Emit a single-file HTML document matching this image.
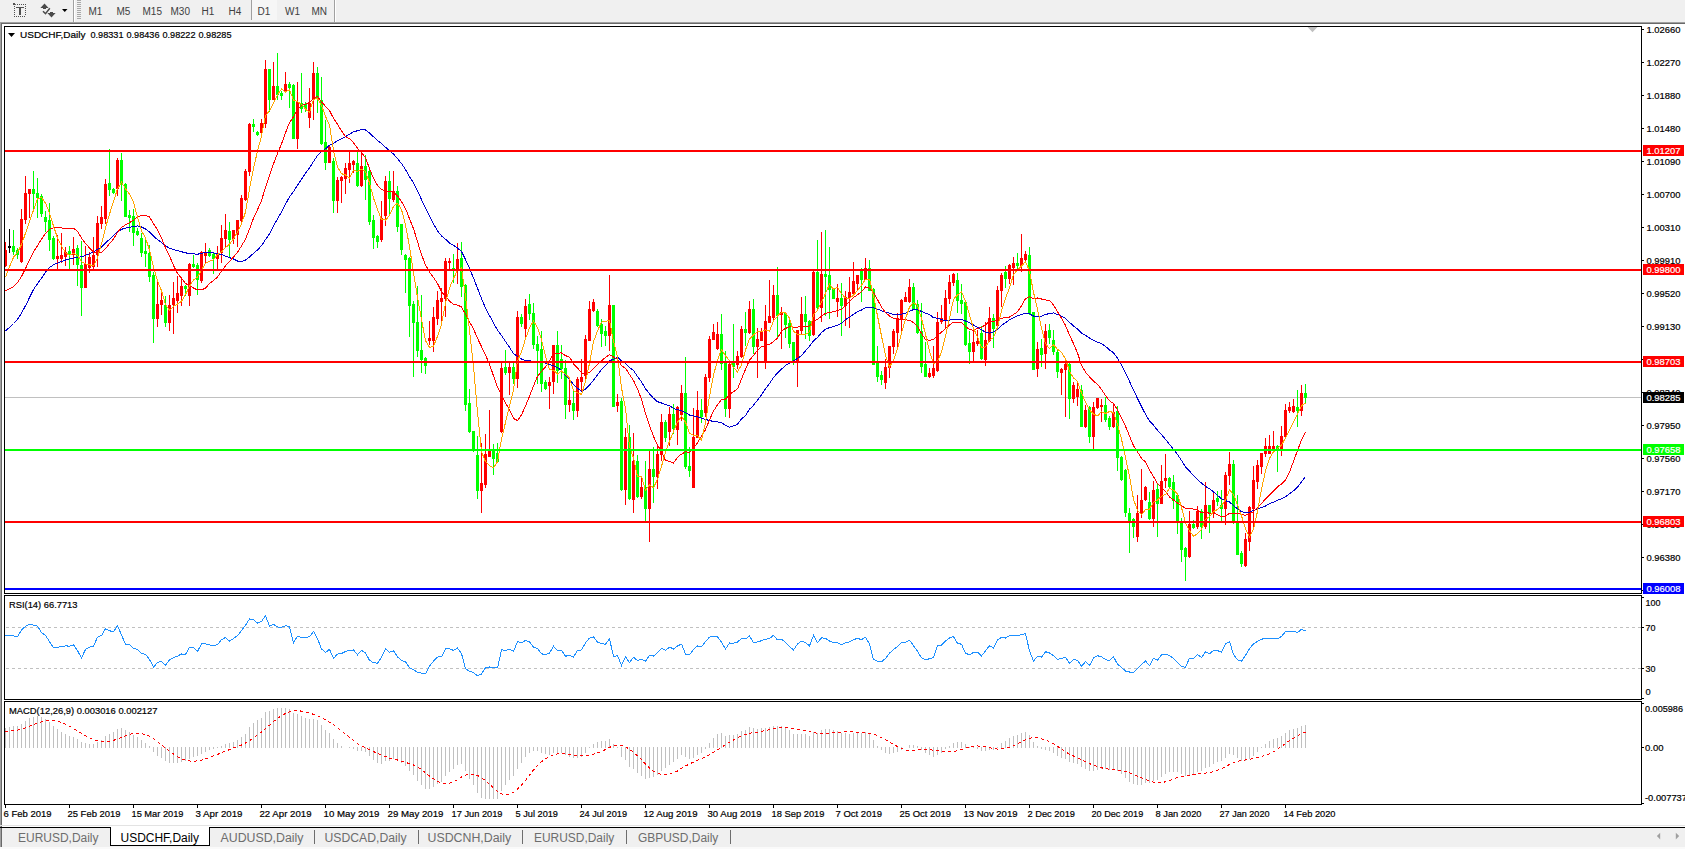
<!DOCTYPE html><html><head><meta charset="utf-8"><style>html,body{margin:0;padding:0;width:1685px;height:849px;overflow:hidden;background:#fff;position:relative}text{font-family:"Liberation Sans",sans-serif}</style></head><body><svg width="1685" height="849" viewBox="0 0 1685 849" shape-rendering="crispEdges" style="position:absolute;left:0;top:0">
<rect x="0" y="0" width="1685" height="22" fill="#f0f0f0"/>
<rect x="0" y="22" width="1685" height="1" fill="#a0a0a0"/>
<rect x="0" y="23" width="1685" height="1" fill="#696969"/>
<rect x="17" y="4" width="1" height="1" fill="#505050"/>
<rect x="19" y="4" width="1" height="1" fill="#505050"/>
<rect x="21" y="4" width="1" height="1" fill="#505050"/>
<rect x="23" y="4" width="1" height="1" fill="#505050"/>
<rect x="25" y="4" width="1" height="1" fill="#505050"/>
<rect x="14" y="16" width="1" height="1" fill="#505050"/>
<rect x="16" y="16" width="1" height="1" fill="#505050"/>
<rect x="18" y="16" width="1" height="1" fill="#505050"/>
<rect x="20" y="16" width="1" height="1" fill="#505050"/>
<rect x="22" y="16" width="1" height="1" fill="#505050"/>
<rect x="24" y="16" width="1" height="1" fill="#505050"/>
<rect x="14" y="6" width="1" height="1" fill="#505050"/>
<rect x="25" y="6" width="1" height="1" fill="#505050"/>
<rect x="14" y="8" width="1" height="1" fill="#505050"/>
<rect x="25" y="8" width="1" height="1" fill="#505050"/>
<rect x="14" y="10" width="1" height="1" fill="#505050"/>
<rect x="25" y="10" width="1" height="1" fill="#505050"/>
<rect x="14" y="12" width="1" height="1" fill="#505050"/>
<rect x="25" y="12" width="1" height="1" fill="#505050"/>
<rect x="14" y="14" width="1" height="1" fill="#505050"/>
<rect x="25" y="14" width="1" height="1" fill="#505050"/>
<rect x="13" y="3" width="2" height="2" fill="#505050"/><rect x="15" y="4" width="1" height="1" fill="#707070"/>
<rect x="16" y="7" width="8" height="1" fill="#505050"/><rect x="19" y="7" width="2" height="8" fill="#505050"/>
<g shape-rendering="geometricPrecision" fill="#4a4a4a"><path d="M44.5 3.6 L48.6 7.9 L46 7.9 L46 9 L43 9 L43 7.9 L40.4 7.9 Z"/><path d="M50 12 L53 12 L53 13.1 L55.6 13.1 L51.5 17.4 L47.4 13.1 L50 13.1 Z"/><path d="M43 11.2 L45.5 13.7 L49.8 8.3" fill="none" stroke="#4a4a4a" stroke-width="1.5"/></g>
<path d="M62 9 L67.5 9 L64.75 12 Z" fill="#000" shape-rendering="geometricPrecision"/>
<rect x="73" y="0" width="1" height="22" fill="#a0a0a0"/><rect x="74" y="0" width="1" height="22" fill="#ffffff"/>
<rect x="77" y="0" width="4" height="1" fill="#a8a8a8"/>
<rect x="77" y="2" width="4" height="1" fill="#a8a8a8"/>
<rect x="77" y="4" width="4" height="1" fill="#a8a8a8"/>
<rect x="77" y="6" width="4" height="1" fill="#a8a8a8"/>
<rect x="77" y="8" width="4" height="1" fill="#a8a8a8"/>
<rect x="77" y="10" width="4" height="1" fill="#a8a8a8"/>
<rect x="77" y="12" width="4" height="1" fill="#a8a8a8"/>
<rect x="77" y="14" width="4" height="1" fill="#a8a8a8"/>
<rect x="77" y="16" width="4" height="1" fill="#a8a8a8"/>
<rect x="77" y="18" width="4" height="1" fill="#a8a8a8"/>
<rect x="251" y="0" width="1" height="20" fill="#a0a0a0"/><rect x="252" y="0" width="25" height="20" fill="#f6f6f6"/>
<rect x="334" y="0" width="1" height="22" fill="#a0a0a0"/><rect x="335" y="0" width="1" height="22" fill="#ffffff"/>
<text x="88.5" y="14.5" font-family="Liberation Sans, sans-serif" font-size="10" fill="#404040" shape-rendering="geometricPrecision">M1</text>
<text x="116.5" y="14.5" font-family="Liberation Sans, sans-serif" font-size="10" fill="#404040" shape-rendering="geometricPrecision">M5</text>
<text x="142.5" y="14.5" font-family="Liberation Sans, sans-serif" font-size="10" fill="#404040" shape-rendering="geometricPrecision">M15</text>
<text x="170.5" y="14.5" font-family="Liberation Sans, sans-serif" font-size="10" fill="#404040" shape-rendering="geometricPrecision">M30</text>
<text x="201.5" y="14.5" font-family="Liberation Sans, sans-serif" font-size="10" fill="#404040" shape-rendering="geometricPrecision">H1</text>
<text x="228.5" y="14.5" font-family="Liberation Sans, sans-serif" font-size="10" fill="#404040" shape-rendering="geometricPrecision">H4</text>
<text x="257.5" y="14.5" font-family="Liberation Sans, sans-serif" font-size="10" fill="#404040" shape-rendering="geometricPrecision">D1</text>
<text x="285" y="14.5" font-family="Liberation Sans, sans-serif" font-size="10" fill="#404040" shape-rendering="geometricPrecision">W1</text>
<text x="311.5" y="14.5" font-family="Liberation Sans, sans-serif" font-size="10" fill="#404040" shape-rendering="geometricPrecision">MN</text>
<rect x="0" y="24" width="1685" height="804" fill="#ffffff"/>
<rect x="0" y="22" width="1" height="805" fill="#a0a0a0"/><rect x="1" y="23" width="1" height="804" fill="#696969"/>
<rect x="4" y="26" width="1638" height="1" fill="#000"/>
<rect x="4" y="593" width="1638" height="1" fill="#000"/>
<rect x="4" y="26" width="1" height="568" fill="#000"/>
<rect x="1641" y="26" width="1" height="568" fill="#000"/>
<rect x="4" y="595" width="1638" height="1" fill="#000"/>
<rect x="4" y="699" width="1638" height="1" fill="#000"/>
<rect x="4" y="595" width="1" height="105" fill="#000"/>
<rect x="1641" y="595" width="1" height="105" fill="#000"/>
<rect x="4" y="701" width="1638" height="1" fill="#000"/>
<rect x="4" y="804" width="1638" height="1" fill="#000"/>
<rect x="4" y="701" width="1" height="104" fill="#000"/>
<rect x="1641" y="701" width="1" height="104" fill="#000"/>
<defs><clipPath id="cm"><rect x="5" y="27" width="1636" height="566"/></clipPath><clipPath id="cr"><rect x="5" y="596" width="1636" height="103"/></clipPath><clipPath id="cd"><rect x="5" y="702" width="1636" height="102"/></clipPath></defs>
<g clip-path="url(#cm)">
<rect x="5" y="397" width="1636" height="1" fill="#c0c0c0"/>
<rect x="5" y="242" width="1" height="25" fill="#ff0000"/>
<rect x="4" y="250" width="3" height="16" fill="#ff0000"/>
<rect x="9" y="229" width="1" height="24" fill="#000000"/>
<rect x="8" y="246" width="3" height="2" fill="#000000"/>
<rect x="13" y="230" width="1" height="25" fill="#00ff00"/>
<rect x="12" y="246" width="3" height="6" fill="#00ff00"/>
<rect x="17" y="248" width="1" height="11" fill="#00ff00"/>
<rect x="16" y="250" width="3" height="5" fill="#00ff00"/>
<rect x="21" y="209" width="1" height="54" fill="#ff0000"/>
<rect x="20" y="219" width="3" height="43" fill="#ff0000"/>
<rect x="25" y="176" width="1" height="48" fill="#ff0000"/>
<rect x="24" y="193" width="3" height="27" fill="#ff0000"/>
<rect x="29" y="189" width="1" height="29" fill="#ff0000"/>
<rect x="28" y="189" width="3" height="5" fill="#ff0000"/>
<rect x="33" y="171" width="1" height="38" fill="#00ff00"/>
<rect x="32" y="189" width="3" height="5" fill="#00ff00"/>
<rect x="37" y="178" width="1" height="40" fill="#00ff00"/>
<rect x="36" y="193" width="3" height="5" fill="#00ff00"/>
<rect x="41" y="194" width="1" height="23" fill="#00ff00"/>
<rect x="40" y="196" width="3" height="18" fill="#00ff00"/>
<rect x="45" y="211" width="1" height="21" fill="#00ff00"/>
<rect x="44" y="217" width="3" height="5" fill="#00ff00"/>
<rect x="49" y="203" width="1" height="48" fill="#00ff00"/>
<rect x="48" y="220" width="3" height="20" fill="#00ff00"/>
<rect x="53" y="236" width="1" height="24" fill="#00ff00"/>
<rect x="52" y="238" width="3" height="21" fill="#00ff00"/>
<rect x="57" y="235" width="1" height="34" fill="#ff0000"/>
<rect x="56" y="256" width="3" height="3" fill="#ff0000"/>
<rect x="61" y="233" width="1" height="30" fill="#ff0000"/>
<rect x="60" y="255" width="3" height="4" fill="#ff0000"/>
<rect x="65" y="247" width="1" height="19" fill="#ff0000"/>
<rect x="64" y="252" width="3" height="5" fill="#ff0000"/>
<rect x="69" y="246" width="1" height="23" fill="#00ff00"/>
<rect x="68" y="251" width="3" height="3" fill="#00ff00"/>
<rect x="73" y="237" width="1" height="28" fill="#ff0000"/>
<rect x="72" y="249" width="3" height="6" fill="#ff0000"/>
<rect x="77" y="245" width="1" height="41" fill="#00ff00"/>
<rect x="76" y="248" width="3" height="17" fill="#00ff00"/>
<rect x="81" y="241" width="1" height="75" fill="#00ff00"/>
<rect x="80" y="265" width="3" height="23" fill="#00ff00"/>
<rect x="85" y="246" width="1" height="42" fill="#ff0000"/>
<rect x="84" y="264" width="3" height="24" fill="#ff0000"/>
<rect x="89" y="252" width="1" height="21" fill="#ff0000"/>
<rect x="88" y="257" width="3" height="11" fill="#ff0000"/>
<rect x="93" y="237" width="1" height="32" fill="#ff0000"/>
<rect x="92" y="255" width="3" height="12" fill="#ff0000"/>
<rect x="97" y="216" width="1" height="51" fill="#ff0000"/>
<rect x="96" y="223" width="3" height="32" fill="#ff0000"/>
<rect x="101" y="206" width="1" height="23" fill="#ff0000"/>
<rect x="100" y="217" width="3" height="7" fill="#ff0000"/>
<rect x="105" y="179" width="1" height="45" fill="#ff0000"/>
<rect x="104" y="184" width="3" height="35" fill="#ff0000"/>
<rect x="109" y="149" width="1" height="47" fill="#00ff00"/>
<rect x="108" y="183" width="3" height="7" fill="#00ff00"/>
<rect x="113" y="188" width="1" height="6" fill="#00ff00"/>
<rect x="112" y="189" width="3" height="4" fill="#00ff00"/>
<rect x="117" y="158" width="1" height="38" fill="#ff0000"/>
<rect x="116" y="160" width="3" height="29" fill="#ff0000"/>
<rect x="121" y="153" width="1" height="48" fill="#00ff00"/>
<rect x="120" y="160" width="3" height="25" fill="#00ff00"/>
<rect x="125" y="183" width="1" height="34" fill="#00ff00"/>
<rect x="124" y="184" width="3" height="33" fill="#00ff00"/>
<rect x="129" y="210" width="1" height="22" fill="#00ff00"/>
<rect x="128" y="215" width="3" height="3" fill="#00ff00"/>
<rect x="133" y="209" width="1" height="37" fill="#00ff00"/>
<rect x="132" y="216" width="3" height="17" fill="#00ff00"/>
<rect x="137" y="228" width="1" height="8" fill="#00ff00"/>
<rect x="136" y="231" width="3" height="4" fill="#00ff00"/>
<rect x="141" y="233" width="1" height="24" fill="#00ff00"/>
<rect x="140" y="238" width="3" height="15" fill="#00ff00"/>
<rect x="145" y="238" width="1" height="29" fill="#00ff00"/>
<rect x="144" y="251" width="3" height="3" fill="#00ff00"/>
<rect x="149" y="245" width="1" height="37" fill="#00ff00"/>
<rect x="148" y="253" width="3" height="24" fill="#00ff00"/>
<rect x="153" y="272" width="1" height="71" fill="#00ff00"/>
<rect x="152" y="275" width="3" height="44" fill="#00ff00"/>
<rect x="157" y="281" width="1" height="46" fill="#ff0000"/>
<rect x="156" y="304" width="3" height="15" fill="#ff0000"/>
<rect x="161" y="292" width="1" height="23" fill="#ff0000"/>
<rect x="160" y="300" width="3" height="5" fill="#ff0000"/>
<rect x="165" y="296" width="1" height="31" fill="#00ff00"/>
<rect x="164" y="305" width="3" height="18" fill="#00ff00"/>
<rect x="169" y="295" width="1" height="36" fill="#ff0000"/>
<rect x="168" y="305" width="3" height="18" fill="#ff0000"/>
<rect x="173" y="282" width="1" height="52" fill="#ff0000"/>
<rect x="172" y="298" width="3" height="7" fill="#ff0000"/>
<rect x="177" y="276" width="1" height="37" fill="#ff0000"/>
<rect x="176" y="293" width="3" height="8" fill="#ff0000"/>
<rect x="181" y="277" width="1" height="29" fill="#ff0000"/>
<rect x="180" y="286" width="3" height="10" fill="#ff0000"/>
<rect x="185" y="285" width="1" height="11" fill="#00ff00"/>
<rect x="184" y="286" width="3" height="3" fill="#00ff00"/>
<rect x="189" y="263" width="1" height="43" fill="#ff0000"/>
<rect x="188" y="264" width="3" height="32" fill="#ff0000"/>
<rect x="193" y="255" width="1" height="13" fill="#00ff00"/>
<rect x="192" y="264" width="3" height="3" fill="#00ff00"/>
<rect x="197" y="263" width="1" height="32" fill="#00ff00"/>
<rect x="196" y="265" width="3" height="15" fill="#00ff00"/>
<rect x="201" y="251" width="1" height="32" fill="#ff0000"/>
<rect x="200" y="252" width="3" height="29" fill="#ff0000"/>
<rect x="205" y="243" width="1" height="20" fill="#ff0000"/>
<rect x="204" y="252" width="3" height="4" fill="#ff0000"/>
<rect x="209" y="248" width="1" height="9" fill="#00ff00"/>
<rect x="208" y="250" width="3" height="6" fill="#00ff00"/>
<rect x="213" y="253" width="1" height="21" fill="#00ff00"/>
<rect x="212" y="254" width="3" height="5" fill="#00ff00"/>
<rect x="217" y="246" width="1" height="24" fill="#ff0000"/>
<rect x="216" y="254" width="3" height="5" fill="#ff0000"/>
<rect x="221" y="225" width="1" height="38" fill="#ff0000"/>
<rect x="220" y="238" width="3" height="15" fill="#ff0000"/>
<rect x="225" y="214" width="1" height="33" fill="#ff0000"/>
<rect x="224" y="230" width="3" height="9" fill="#ff0000"/>
<rect x="229" y="222" width="1" height="36" fill="#00ff00"/>
<rect x="228" y="231" width="3" height="9" fill="#00ff00"/>
<rect x="233" y="230" width="1" height="14" fill="#ff0000"/>
<rect x="232" y="230" width="3" height="9" fill="#ff0000"/>
<rect x="237" y="220" width="1" height="27" fill="#ff0000"/>
<rect x="236" y="220" width="3" height="15" fill="#ff0000"/>
<rect x="241" y="195" width="1" height="28" fill="#ff0000"/>
<rect x="240" y="198" width="3" height="23" fill="#ff0000"/>
<rect x="245" y="169" width="1" height="32" fill="#ff0000"/>
<rect x="244" y="171" width="3" height="29" fill="#ff0000"/>
<rect x="249" y="123" width="1" height="53" fill="#ff0000"/>
<rect x="248" y="124" width="3" height="48" fill="#ff0000"/>
<rect x="253" y="119" width="1" height="13" fill="#00ff00"/>
<rect x="252" y="124" width="3" height="3" fill="#00ff00"/>
<rect x="257" y="131" width="1" height="5" fill="#00ff00"/>
<rect x="256" y="132" width="3" height="3" fill="#00ff00"/>
<rect x="261" y="119" width="1" height="15" fill="#ff0000"/>
<rect x="260" y="123" width="3" height="10" fill="#ff0000"/>
<rect x="265" y="60" width="1" height="68" fill="#ff0000"/>
<rect x="264" y="69" width="3" height="55" fill="#ff0000"/>
<rect x="269" y="69" width="1" height="43" fill="#00ff00"/>
<rect x="268" y="69" width="3" height="31" fill="#00ff00"/>
<rect x="273" y="62" width="1" height="38" fill="#ff0000"/>
<rect x="272" y="86" width="3" height="14" fill="#ff0000"/>
<rect x="277" y="53" width="1" height="47" fill="#00ff00"/>
<rect x="276" y="86" width="3" height="9" fill="#00ff00"/>
<rect x="281" y="91" width="1" height="9" fill="#00ff00"/>
<rect x="280" y="93" width="3" height="3" fill="#00ff00"/>
<rect x="285" y="72" width="1" height="20" fill="#ff0000"/>
<rect x="284" y="84" width="3" height="7" fill="#ff0000"/>
<rect x="289" y="82" width="1" height="26" fill="#00ff00"/>
<rect x="288" y="84" width="3" height="4" fill="#00ff00"/>
<rect x="293" y="84" width="1" height="55" fill="#00ff00"/>
<rect x="292" y="85" width="3" height="54" fill="#00ff00"/>
<rect x="297" y="82" width="1" height="67" fill="#ff0000"/>
<rect x="296" y="102" width="3" height="37" fill="#ff0000"/>
<rect x="301" y="73" width="1" height="40" fill="#00ff00"/>
<rect x="300" y="103" width="3" height="6" fill="#00ff00"/>
<rect x="305" y="102" width="1" height="10" fill="#00ff00"/>
<rect x="304" y="104" width="3" height="5" fill="#00ff00"/>
<rect x="309" y="88" width="1" height="40" fill="#ff0000"/>
<rect x="308" y="103" width="3" height="15" fill="#ff0000"/>
<rect x="313" y="62" width="1" height="58" fill="#ff0000"/>
<rect x="312" y="73" width="3" height="26" fill="#ff0000"/>
<rect x="317" y="67" width="1" height="46" fill="#00ff00"/>
<rect x="316" y="73" width="3" height="26" fill="#00ff00"/>
<rect x="321" y="77" width="1" height="68" fill="#00ff00"/>
<rect x="320" y="100" width="3" height="44" fill="#00ff00"/>
<rect x="325" y="120" width="1" height="50" fill="#00ff00"/>
<rect x="324" y="142" width="3" height="21" fill="#00ff00"/>
<rect x="329" y="145" width="1" height="18" fill="#ff0000"/>
<rect x="328" y="147" width="3" height="16" fill="#ff0000"/>
<rect x="333" y="158" width="1" height="55" fill="#00ff00"/>
<rect x="332" y="161" width="3" height="40" fill="#00ff00"/>
<rect x="337" y="177" width="1" height="36" fill="#ff0000"/>
<rect x="336" y="180" width="3" height="21" fill="#ff0000"/>
<rect x="341" y="176" width="1" height="27" fill="#ff0000"/>
<rect x="340" y="177" width="3" height="4" fill="#ff0000"/>
<rect x="345" y="163" width="1" height="31" fill="#ff0000"/>
<rect x="344" y="168" width="3" height="11" fill="#ff0000"/>
<rect x="349" y="151" width="1" height="32" fill="#ff0000"/>
<rect x="348" y="163" width="3" height="7" fill="#ff0000"/>
<rect x="353" y="160" width="1" height="13" fill="#ff0000"/>
<rect x="352" y="161" width="3" height="4" fill="#ff0000"/>
<rect x="357" y="152" width="1" height="35" fill="#00ff00"/>
<rect x="356" y="163" width="3" height="23" fill="#00ff00"/>
<rect x="361" y="152" width="1" height="35" fill="#ff0000"/>
<rect x="360" y="166" width="3" height="20" fill="#ff0000"/>
<rect x="365" y="155" width="1" height="45" fill="#00ff00"/>
<rect x="364" y="166" width="3" height="14" fill="#00ff00"/>
<rect x="369" y="167" width="1" height="58" fill="#00ff00"/>
<rect x="368" y="171" width="3" height="51" fill="#00ff00"/>
<rect x="373" y="215" width="1" height="34" fill="#00ff00"/>
<rect x="372" y="220" width="3" height="18" fill="#00ff00"/>
<rect x="377" y="235" width="1" height="13" fill="#00ff00"/>
<rect x="376" y="236" width="3" height="6" fill="#00ff00"/>
<rect x="381" y="201" width="1" height="41" fill="#ff0000"/>
<rect x="380" y="218" width="3" height="22" fill="#ff0000"/>
<rect x="385" y="176" width="1" height="50" fill="#ff0000"/>
<rect x="384" y="181" width="3" height="35" fill="#ff0000"/>
<rect x="389" y="171" width="1" height="43" fill="#00ff00"/>
<rect x="388" y="181" width="3" height="18" fill="#00ff00"/>
<rect x="393" y="171" width="1" height="31" fill="#ff0000"/>
<rect x="392" y="191" width="3" height="9" fill="#ff0000"/>
<rect x="397" y="186" width="1" height="46" fill="#00ff00"/>
<rect x="396" y="191" width="3" height="36" fill="#00ff00"/>
<rect x="401" y="224" width="1" height="31" fill="#00ff00"/>
<rect x="400" y="224" width="3" height="26" fill="#00ff00"/>
<rect x="405" y="254" width="1" height="39" fill="#00ff00"/>
<rect x="404" y="255" width="3" height="5" fill="#00ff00"/>
<rect x="409" y="257" width="1" height="80" fill="#00ff00"/>
<rect x="408" y="258" width="3" height="48" fill="#00ff00"/>
<rect x="413" y="301" width="1" height="76" fill="#00ff00"/>
<rect x="412" y="304" width="3" height="19" fill="#00ff00"/>
<rect x="417" y="286" width="1" height="71" fill="#00ff00"/>
<rect x="416" y="322" width="3" height="29" fill="#00ff00"/>
<rect x="421" y="295" width="1" height="78" fill="#00ff00"/>
<rect x="420" y="350" width="3" height="10" fill="#00ff00"/>
<rect x="425" y="357" width="1" height="17" fill="#00ff00"/>
<rect x="424" y="358" width="3" height="8" fill="#00ff00"/>
<rect x="429" y="321" width="1" height="24" fill="#ff0000"/>
<rect x="428" y="338" width="3" height="3" fill="#ff0000"/>
<rect x="433" y="307" width="1" height="45" fill="#ff0000"/>
<rect x="432" y="317" width="3" height="24" fill="#ff0000"/>
<rect x="437" y="291" width="1" height="34" fill="#ff0000"/>
<rect x="436" y="300" width="3" height="19" fill="#ff0000"/>
<rect x="441" y="288" width="1" height="35" fill="#ff0000"/>
<rect x="440" y="298" width="3" height="4" fill="#ff0000"/>
<rect x="445" y="258" width="1" height="59" fill="#ff0000"/>
<rect x="444" y="261" width="3" height="38" fill="#ff0000"/>
<rect x="449" y="258" width="1" height="11" fill="#ff0000"/>
<rect x="448" y="261" width="3" height="2" fill="#ff0000"/>
<rect x="453" y="254" width="1" height="29" fill="#00ff00"/>
<rect x="452" y="268" width="3" height="3" fill="#00ff00"/>
<rect x="457" y="243" width="1" height="41" fill="#ff0000"/>
<rect x="456" y="259" width="3" height="11" fill="#ff0000"/>
<rect x="461" y="242" width="1" height="55" fill="#00ff00"/>
<rect x="460" y="258" width="3" height="29" fill="#00ff00"/>
<rect x="465" y="284" width="1" height="127" fill="#00ff00"/>
<rect x="464" y="285" width="3" height="120" fill="#00ff00"/>
<rect x="469" y="389" width="1" height="44" fill="#00ff00"/>
<rect x="468" y="403" width="3" height="29" fill="#00ff00"/>
<rect x="473" y="431" width="1" height="21" fill="#00ff00"/>
<rect x="472" y="431" width="3" height="18" fill="#00ff00"/>
<rect x="477" y="436" width="1" height="63" fill="#00ff00"/>
<rect x="476" y="455" width="3" height="36" fill="#00ff00"/>
<rect x="481" y="443" width="1" height="70" fill="#ff0000"/>
<rect x="480" y="483" width="3" height="8" fill="#ff0000"/>
<rect x="485" y="434" width="1" height="54" fill="#ff0000"/>
<rect x="484" y="454" width="3" height="31" fill="#ff0000"/>
<rect x="489" y="410" width="1" height="47" fill="#ff0000"/>
<rect x="488" y="451" width="3" height="6" fill="#ff0000"/>
<rect x="493" y="444" width="1" height="31" fill="#00ff00"/>
<rect x="492" y="451" width="3" height="8" fill="#00ff00"/>
<rect x="497" y="443" width="1" height="19" fill="#00ff00"/>
<rect x="496" y="453" width="3" height="9" fill="#00ff00"/>
<rect x="501" y="363" width="1" height="70" fill="#ff0000"/>
<rect x="500" y="368" width="3" height="64" fill="#ff0000"/>
<rect x="505" y="350" width="1" height="25" fill="#00ff00"/>
<rect x="504" y="367" width="3" height="6" fill="#00ff00"/>
<rect x="509" y="361" width="1" height="34" fill="#ff0000"/>
<rect x="508" y="367" width="3" height="6" fill="#ff0000"/>
<rect x="513" y="361" width="1" height="23" fill="#00ff00"/>
<rect x="512" y="367" width="3" height="12" fill="#00ff00"/>
<rect x="517" y="311" width="1" height="77" fill="#ff0000"/>
<rect x="516" y="317" width="3" height="62" fill="#ff0000"/>
<rect x="521" y="314" width="1" height="13" fill="#00ff00"/>
<rect x="520" y="317" width="3" height="7" fill="#00ff00"/>
<rect x="525" y="299" width="1" height="39" fill="#ff0000"/>
<rect x="524" y="306" width="3" height="23" fill="#ff0000"/>
<rect x="529" y="294" width="1" height="26" fill="#00ff00"/>
<rect x="528" y="304" width="3" height="10" fill="#00ff00"/>
<rect x="533" y="303" width="1" height="46" fill="#00ff00"/>
<rect x="532" y="313" width="3" height="32" fill="#00ff00"/>
<rect x="537" y="336" width="1" height="48" fill="#00ff00"/>
<rect x="536" y="344" width="3" height="7" fill="#00ff00"/>
<rect x="541" y="331" width="1" height="61" fill="#00ff00"/>
<rect x="540" y="349" width="3" height="35" fill="#00ff00"/>
<rect x="545" y="380" width="1" height="10" fill="#00ff00"/>
<rect x="544" y="382" width="3" height="7" fill="#00ff00"/>
<rect x="549" y="377" width="1" height="32" fill="#ff0000"/>
<rect x="548" y="382" width="3" height="4" fill="#ff0000"/>
<rect x="553" y="345" width="1" height="49" fill="#ff0000"/>
<rect x="552" y="345" width="3" height="37" fill="#ff0000"/>
<rect x="557" y="331" width="1" height="52" fill="#00ff00"/>
<rect x="556" y="345" width="3" height="26" fill="#00ff00"/>
<rect x="561" y="345" width="1" height="34" fill="#00ff00"/>
<rect x="560" y="359" width="3" height="10" fill="#00ff00"/>
<rect x="565" y="360" width="1" height="59" fill="#00ff00"/>
<rect x="564" y="368" width="3" height="37" fill="#00ff00"/>
<rect x="569" y="379" width="1" height="33" fill="#ff0000"/>
<rect x="568" y="400" width="3" height="5" fill="#ff0000"/>
<rect x="573" y="389" width="1" height="31" fill="#00ff00"/>
<rect x="572" y="403" width="3" height="8" fill="#00ff00"/>
<rect x="577" y="377" width="1" height="40" fill="#ff0000"/>
<rect x="576" y="379" width="3" height="32" fill="#ff0000"/>
<rect x="581" y="359" width="1" height="33" fill="#ff0000"/>
<rect x="580" y="377" width="3" height="5" fill="#ff0000"/>
<rect x="585" y="335" width="1" height="47" fill="#ff0000"/>
<rect x="584" y="339" width="3" height="37" fill="#ff0000"/>
<rect x="589" y="301" width="1" height="40" fill="#ff0000"/>
<rect x="588" y="309" width="3" height="32" fill="#ff0000"/>
<rect x="593" y="299" width="1" height="13" fill="#ff0000"/>
<rect x="592" y="302" width="3" height="9" fill="#ff0000"/>
<rect x="597" y="309" width="1" height="18" fill="#00ff00"/>
<rect x="596" y="311" width="3" height="15" fill="#00ff00"/>
<rect x="601" y="319" width="1" height="28" fill="#00ff00"/>
<rect x="600" y="324" width="3" height="10" fill="#00ff00"/>
<rect x="605" y="326" width="1" height="20" fill="#00ff00"/>
<rect x="604" y="331" width="3" height="5" fill="#00ff00"/>
<rect x="609" y="275" width="1" height="76" fill="#ff0000"/>
<rect x="608" y="305" width="3" height="31" fill="#ff0000"/>
<rect x="613" y="305" width="1" height="102" fill="#00ff00"/>
<rect x="612" y="305" width="3" height="102" fill="#00ff00"/>
<rect x="617" y="394" width="1" height="18" fill="#ff0000"/>
<rect x="616" y="402" width="3" height="4" fill="#ff0000"/>
<rect x="621" y="398" width="1" height="93" fill="#00ff00"/>
<rect x="620" y="401" width="3" height="89" fill="#00ff00"/>
<rect x="625" y="428" width="1" height="77" fill="#ff0000"/>
<rect x="624" y="437" width="3" height="53" fill="#ff0000"/>
<rect x="629" y="425" width="1" height="75" fill="#00ff00"/>
<rect x="628" y="437" width="3" height="62" fill="#00ff00"/>
<rect x="633" y="433" width="1" height="80" fill="#ff0000"/>
<rect x="632" y="461" width="3" height="39" fill="#ff0000"/>
<rect x="637" y="455" width="1" height="43" fill="#00ff00"/>
<rect x="636" y="461" width="3" height="36" fill="#00ff00"/>
<rect x="641" y="478" width="1" height="21" fill="#ff0000"/>
<rect x="640" y="487" width="3" height="10" fill="#ff0000"/>
<rect x="645" y="461" width="1" height="61" fill="#00ff00"/>
<rect x="644" y="487" width="3" height="22" fill="#00ff00"/>
<rect x="649" y="451" width="1" height="91" fill="#ff0000"/>
<rect x="648" y="469" width="3" height="40" fill="#ff0000"/>
<rect x="653" y="447" width="1" height="56" fill="#00ff00"/>
<rect x="652" y="469" width="3" height="8" fill="#00ff00"/>
<rect x="657" y="445" width="1" height="44" fill="#ff0000"/>
<rect x="656" y="454" width="3" height="23" fill="#ff0000"/>
<rect x="661" y="414" width="1" height="47" fill="#ff0000"/>
<rect x="660" y="422" width="3" height="33" fill="#ff0000"/>
<rect x="665" y="420" width="1" height="22" fill="#00ff00"/>
<rect x="664" y="422" width="3" height="16" fill="#00ff00"/>
<rect x="669" y="407" width="1" height="39" fill="#ff0000"/>
<rect x="668" y="414" width="3" height="18" fill="#ff0000"/>
<rect x="673" y="404" width="1" height="30" fill="#00ff00"/>
<rect x="672" y="414" width="3" height="15" fill="#00ff00"/>
<rect x="677" y="406" width="1" height="39" fill="#ff0000"/>
<rect x="676" y="407" width="3" height="23" fill="#ff0000"/>
<rect x="681" y="385" width="1" height="36" fill="#ff0000"/>
<rect x="680" y="393" width="3" height="22" fill="#ff0000"/>
<rect x="685" y="357" width="1" height="112" fill="#00ff00"/>
<rect x="684" y="393" width="3" height="74" fill="#00ff00"/>
<rect x="689" y="447" width="1" height="30" fill="#00ff00"/>
<rect x="688" y="466" width="3" height="5" fill="#00ff00"/>
<rect x="693" y="408" width="1" height="80" fill="#ff0000"/>
<rect x="692" y="437" width="3" height="51" fill="#ff0000"/>
<rect x="697" y="391" width="1" height="47" fill="#ff0000"/>
<rect x="696" y="410" width="3" height="28" fill="#ff0000"/>
<rect x="701" y="399" width="1" height="24" fill="#00ff00"/>
<rect x="700" y="410" width="3" height="7" fill="#00ff00"/>
<rect x="705" y="374" width="1" height="43" fill="#ff0000"/>
<rect x="704" y="377" width="3" height="36" fill="#ff0000"/>
<rect x="709" y="336" width="1" height="46" fill="#ff0000"/>
<rect x="708" y="339" width="3" height="39" fill="#ff0000"/>
<rect x="713" y="324" width="1" height="16" fill="#ff0000"/>
<rect x="712" y="332" width="3" height="8" fill="#ff0000"/>
<rect x="717" y="322" width="1" height="28" fill="#ff0000"/>
<rect x="716" y="334" width="3" height="15" fill="#ff0000"/>
<rect x="721" y="314" width="1" height="56" fill="#00ff00"/>
<rect x="720" y="334" width="3" height="30" fill="#00ff00"/>
<rect x="725" y="351" width="1" height="66" fill="#00ff00"/>
<rect x="724" y="363" width="3" height="46" fill="#00ff00"/>
<rect x="729" y="363" width="1" height="55" fill="#ff0000"/>
<rect x="728" y="364" width="3" height="45" fill="#ff0000"/>
<rect x="733" y="324" width="1" height="54" fill="#00ff00"/>
<rect x="732" y="363" width="3" height="4" fill="#00ff00"/>
<rect x="737" y="351" width="1" height="18" fill="#ff0000"/>
<rect x="736" y="356" width="3" height="9" fill="#ff0000"/>
<rect x="741" y="326" width="1" height="32" fill="#ff0000"/>
<rect x="740" y="329" width="3" height="28" fill="#ff0000"/>
<rect x="745" y="312" width="1" height="34" fill="#00ff00"/>
<rect x="744" y="329" width="3" height="4" fill="#00ff00"/>
<rect x="749" y="301" width="1" height="33" fill="#ff0000"/>
<rect x="748" y="309" width="3" height="24" fill="#ff0000"/>
<rect x="753" y="299" width="1" height="55" fill="#00ff00"/>
<rect x="752" y="309" width="3" height="38" fill="#00ff00"/>
<rect x="757" y="328" width="1" height="50" fill="#ff0000"/>
<rect x="756" y="339" width="3" height="8" fill="#ff0000"/>
<rect x="761" y="328" width="1" height="13" fill="#ff0000"/>
<rect x="760" y="331" width="3" height="10" fill="#ff0000"/>
<rect x="765" y="305" width="1" height="64" fill="#ff0000"/>
<rect x="764" y="321" width="3" height="40" fill="#ff0000"/>
<rect x="769" y="280" width="1" height="43" fill="#ff0000"/>
<rect x="768" y="316" width="3" height="7" fill="#ff0000"/>
<rect x="773" y="285" width="1" height="36" fill="#ff0000"/>
<rect x="772" y="295" width="3" height="23" fill="#ff0000"/>
<rect x="777" y="267" width="1" height="71" fill="#00ff00"/>
<rect x="776" y="295" width="3" height="21" fill="#00ff00"/>
<rect x="781" y="307" width="1" height="42" fill="#ff0000"/>
<rect x="780" y="312" width="3" height="3" fill="#ff0000"/>
<rect x="785" y="313" width="1" height="25" fill="#00ff00"/>
<rect x="784" y="313" width="3" height="12" fill="#00ff00"/>
<rect x="789" y="320" width="1" height="28" fill="#00ff00"/>
<rect x="788" y="323" width="3" height="21" fill="#00ff00"/>
<rect x="793" y="342" width="1" height="23" fill="#00ff00"/>
<rect x="792" y="342" width="3" height="19" fill="#00ff00"/>
<rect x="797" y="330" width="1" height="57" fill="#ff0000"/>
<rect x="796" y="330" width="3" height="31" fill="#ff0000"/>
<rect x="801" y="297" width="1" height="37" fill="#ff0000"/>
<rect x="800" y="314" width="3" height="17" fill="#ff0000"/>
<rect x="805" y="296" width="1" height="43" fill="#00ff00"/>
<rect x="804" y="314" width="3" height="8" fill="#00ff00"/>
<rect x="809" y="320" width="1" height="21" fill="#00ff00"/>
<rect x="808" y="321" width="3" height="15" fill="#00ff00"/>
<rect x="813" y="271" width="1" height="65" fill="#ff0000"/>
<rect x="812" y="272" width="3" height="63" fill="#ff0000"/>
<rect x="817" y="240" width="1" height="69" fill="#00ff00"/>
<rect x="816" y="272" width="3" height="36" fill="#00ff00"/>
<rect x="821" y="232" width="1" height="90" fill="#ff0000"/>
<rect x="820" y="274" width="3" height="34" fill="#ff0000"/>
<rect x="825" y="230" width="1" height="86" fill="#00ff00"/>
<rect x="824" y="274" width="3" height="3" fill="#00ff00"/>
<rect x="829" y="247" width="1" height="72" fill="#00ff00"/>
<rect x="828" y="275" width="3" height="15" fill="#00ff00"/>
<rect x="833" y="289" width="1" height="10" fill="#00ff00"/>
<rect x="832" y="289" width="3" height="10" fill="#00ff00"/>
<rect x="837" y="284" width="1" height="33" fill="#ff0000"/>
<rect x="836" y="298" width="3" height="4" fill="#ff0000"/>
<rect x="841" y="283" width="1" height="53" fill="#00ff00"/>
<rect x="840" y="298" width="3" height="8" fill="#00ff00"/>
<rect x="845" y="291" width="1" height="35" fill="#ff0000"/>
<rect x="844" y="297" width="3" height="9" fill="#ff0000"/>
<rect x="849" y="277" width="1" height="51" fill="#ff0000"/>
<rect x="848" y="292" width="3" height="6" fill="#ff0000"/>
<rect x="853" y="262" width="1" height="33" fill="#ff0000"/>
<rect x="852" y="281" width="3" height="13" fill="#ff0000"/>
<rect x="857" y="275" width="1" height="16" fill="#ff0000"/>
<rect x="856" y="275" width="3" height="9" fill="#ff0000"/>
<rect x="861" y="268" width="1" height="34" fill="#00ff00"/>
<rect x="860" y="271" width="3" height="9" fill="#00ff00"/>
<rect x="865" y="258" width="1" height="22" fill="#ff0000"/>
<rect x="864" y="268" width="3" height="12" fill="#ff0000"/>
<rect x="869" y="260" width="1" height="31" fill="#00ff00"/>
<rect x="868" y="268" width="3" height="23" fill="#00ff00"/>
<rect x="873" y="288" width="1" height="77" fill="#00ff00"/>
<rect x="872" y="289" width="3" height="76" fill="#00ff00"/>
<rect x="877" y="346" width="1" height="36" fill="#00ff00"/>
<rect x="876" y="363" width="3" height="14" fill="#00ff00"/>
<rect x="881" y="371" width="1" height="14" fill="#00ff00"/>
<rect x="880" y="375" width="3" height="5" fill="#00ff00"/>
<rect x="885" y="359" width="1" height="30" fill="#ff0000"/>
<rect x="884" y="367" width="3" height="16" fill="#ff0000"/>
<rect x="889" y="346" width="1" height="32" fill="#ff0000"/>
<rect x="888" y="346" width="3" height="22" fill="#ff0000"/>
<rect x="893" y="329" width="1" height="25" fill="#ff0000"/>
<rect x="892" y="331" width="3" height="16" fill="#ff0000"/>
<rect x="897" y="313" width="1" height="34" fill="#ff0000"/>
<rect x="896" y="318" width="3" height="15" fill="#ff0000"/>
<rect x="901" y="299" width="1" height="35" fill="#ff0000"/>
<rect x="900" y="300" width="3" height="19" fill="#ff0000"/>
<rect x="905" y="292" width="1" height="10" fill="#ff0000"/>
<rect x="904" y="297" width="3" height="5" fill="#ff0000"/>
<rect x="909" y="279" width="1" height="24" fill="#ff0000"/>
<rect x="908" y="287" width="3" height="15" fill="#ff0000"/>
<rect x="913" y="283" width="1" height="26" fill="#00ff00"/>
<rect x="912" y="287" width="3" height="22" fill="#00ff00"/>
<rect x="917" y="300" width="1" height="34" fill="#00ff00"/>
<rect x="916" y="304" width="3" height="29" fill="#00ff00"/>
<rect x="921" y="303" width="1" height="70" fill="#00ff00"/>
<rect x="920" y="331" width="3" height="36" fill="#00ff00"/>
<rect x="925" y="342" width="1" height="35" fill="#00ff00"/>
<rect x="924" y="364" width="3" height="13" fill="#00ff00"/>
<rect x="929" y="368" width="1" height="10" fill="#ff0000"/>
<rect x="928" y="373" width="3" height="4" fill="#ff0000"/>
<rect x="933" y="346" width="1" height="32" fill="#ff0000"/>
<rect x="932" y="368" width="3" height="8" fill="#ff0000"/>
<rect x="937" y="312" width="1" height="60" fill="#ff0000"/>
<rect x="936" y="322" width="3" height="49" fill="#ff0000"/>
<rect x="941" y="305" width="1" height="19" fill="#ff0000"/>
<rect x="940" y="318" width="3" height="4" fill="#ff0000"/>
<rect x="945" y="290" width="1" height="39" fill="#ff0000"/>
<rect x="944" y="298" width="3" height="22" fill="#ff0000"/>
<rect x="949" y="275" width="1" height="29" fill="#ff0000"/>
<rect x="948" y="282" width="3" height="17" fill="#ff0000"/>
<rect x="953" y="273" width="1" height="13" fill="#ff0000"/>
<rect x="952" y="274" width="3" height="9" fill="#ff0000"/>
<rect x="957" y="273" width="1" height="40" fill="#00ff00"/>
<rect x="956" y="280" width="3" height="21" fill="#00ff00"/>
<rect x="961" y="284" width="1" height="30" fill="#00ff00"/>
<rect x="960" y="300" width="3" height="4" fill="#00ff00"/>
<rect x="965" y="300" width="1" height="46" fill="#00ff00"/>
<rect x="964" y="302" width="3" height="43" fill="#00ff00"/>
<rect x="969" y="331" width="1" height="33" fill="#00ff00"/>
<rect x="968" y="343" width="3" height="9" fill="#00ff00"/>
<rect x="973" y="329" width="1" height="34" fill="#ff0000"/>
<rect x="972" y="342" width="3" height="10" fill="#ff0000"/>
<rect x="977" y="330" width="1" height="16" fill="#ff0000"/>
<rect x="976" y="341" width="3" height="3" fill="#ff0000"/>
<rect x="981" y="326" width="1" height="34" fill="#00ff00"/>
<rect x="980" y="333" width="3" height="26" fill="#00ff00"/>
<rect x="985" y="322" width="1" height="44" fill="#ff0000"/>
<rect x="984" y="340" width="3" height="20" fill="#ff0000"/>
<rect x="989" y="307" width="1" height="35" fill="#ff0000"/>
<rect x="988" y="318" width="3" height="23" fill="#ff0000"/>
<rect x="993" y="314" width="1" height="34" fill="#00ff00"/>
<rect x="992" y="318" width="3" height="11" fill="#00ff00"/>
<rect x="997" y="286" width="1" height="41" fill="#ff0000"/>
<rect x="996" y="290" width="3" height="36" fill="#ff0000"/>
<rect x="1001" y="273" width="1" height="34" fill="#ff0000"/>
<rect x="1000" y="275" width="3" height="16" fill="#ff0000"/>
<rect x="1005" y="266" width="1" height="22" fill="#00ff00"/>
<rect x="1004" y="272" width="3" height="7" fill="#00ff00"/>
<rect x="1009" y="264" width="1" height="20" fill="#ff0000"/>
<rect x="1008" y="265" width="3" height="14" fill="#ff0000"/>
<rect x="1013" y="257" width="1" height="28" fill="#ff0000"/>
<rect x="1012" y="263" width="3" height="5" fill="#ff0000"/>
<rect x="1017" y="253" width="1" height="17" fill="#00ff00"/>
<rect x="1016" y="263" width="3" height="3" fill="#00ff00"/>
<rect x="1021" y="234" width="1" height="38" fill="#ff0000"/>
<rect x="1020" y="258" width="3" height="8" fill="#ff0000"/>
<rect x="1025" y="251" width="1" height="10" fill="#ff0000"/>
<rect x="1024" y="254" width="3" height="6" fill="#ff0000"/>
<rect x="1029" y="247" width="1" height="68" fill="#00ff00"/>
<rect x="1028" y="255" width="3" height="59" fill="#00ff00"/>
<rect x="1033" y="312" width="1" height="58" fill="#00ff00"/>
<rect x="1032" y="312" width="3" height="58" fill="#00ff00"/>
<rect x="1037" y="342" width="1" height="35" fill="#ff0000"/>
<rect x="1036" y="349" width="3" height="20" fill="#ff0000"/>
<rect x="1041" y="339" width="1" height="28" fill="#00ff00"/>
<rect x="1040" y="348" width="3" height="7" fill="#00ff00"/>
<rect x="1045" y="324" width="1" height="45" fill="#ff0000"/>
<rect x="1044" y="331" width="3" height="23" fill="#ff0000"/>
<rect x="1049" y="324" width="1" height="20" fill="#00ff00"/>
<rect x="1048" y="330" width="3" height="8" fill="#00ff00"/>
<rect x="1053" y="330" width="1" height="25" fill="#00ff00"/>
<rect x="1052" y="340" width="3" height="12" fill="#00ff00"/>
<rect x="1057" y="350" width="1" height="28" fill="#00ff00"/>
<rect x="1056" y="352" width="3" height="20" fill="#00ff00"/>
<rect x="1061" y="368" width="1" height="27" fill="#ff0000"/>
<rect x="1060" y="369" width="3" height="4" fill="#ff0000"/>
<rect x="1065" y="363" width="1" height="54" fill="#ff0000"/>
<rect x="1064" y="364" width="3" height="6" fill="#ff0000"/>
<rect x="1069" y="363" width="1" height="56" fill="#00ff00"/>
<rect x="1068" y="364" width="3" height="35" fill="#00ff00"/>
<rect x="1073" y="382" width="1" height="21" fill="#ff0000"/>
<rect x="1072" y="385" width="3" height="14" fill="#ff0000"/>
<rect x="1077" y="382" width="1" height="24" fill="#ff0000"/>
<rect x="1076" y="389" width="3" height="8" fill="#ff0000"/>
<rect x="1081" y="385" width="1" height="42" fill="#00ff00"/>
<rect x="1080" y="390" width="3" height="37" fill="#00ff00"/>
<rect x="1085" y="405" width="1" height="23" fill="#ff0000"/>
<rect x="1084" y="410" width="3" height="17" fill="#ff0000"/>
<rect x="1089" y="406" width="1" height="37" fill="#00ff00"/>
<rect x="1088" y="407" width="3" height="30" fill="#00ff00"/>
<rect x="1093" y="402" width="1" height="47" fill="#ff0000"/>
<rect x="1092" y="407" width="3" height="30" fill="#ff0000"/>
<rect x="1097" y="398" width="1" height="11" fill="#ff0000"/>
<rect x="1096" y="398" width="3" height="10" fill="#ff0000"/>
<rect x="1101" y="399" width="1" height="23" fill="#ff0000"/>
<rect x="1100" y="405" width="3" height="2" fill="#ff0000"/>
<rect x="1105" y="397" width="1" height="25" fill="#00ff00"/>
<rect x="1104" y="405" width="3" height="15" fill="#00ff00"/>
<rect x="1109" y="416" width="1" height="14" fill="#00ff00"/>
<rect x="1108" y="418" width="3" height="9" fill="#00ff00"/>
<rect x="1113" y="405" width="1" height="23" fill="#ff0000"/>
<rect x="1112" y="412" width="3" height="15" fill="#ff0000"/>
<rect x="1117" y="406" width="1" height="65" fill="#00ff00"/>
<rect x="1116" y="411" width="3" height="47" fill="#00ff00"/>
<rect x="1121" y="456" width="1" height="25" fill="#00ff00"/>
<rect x="1120" y="457" width="3" height="23" fill="#00ff00"/>
<rect x="1125" y="469" width="1" height="48" fill="#00ff00"/>
<rect x="1124" y="470" width="3" height="43" fill="#00ff00"/>
<rect x="1129" y="508" width="1" height="45" fill="#00ff00"/>
<rect x="1128" y="513" width="3" height="8" fill="#00ff00"/>
<rect x="1133" y="518" width="1" height="20" fill="#00ff00"/>
<rect x="1132" y="519" width="3" height="8" fill="#00ff00"/>
<rect x="1137" y="495" width="1" height="47" fill="#ff0000"/>
<rect x="1136" y="513" width="3" height="24" fill="#ff0000"/>
<rect x="1141" y="469" width="1" height="49" fill="#ff0000"/>
<rect x="1140" y="500" width="3" height="14" fill="#ff0000"/>
<rect x="1145" y="486" width="1" height="15" fill="#ff0000"/>
<rect x="1144" y="487" width="3" height="13" fill="#ff0000"/>
<rect x="1149" y="492" width="1" height="28" fill="#00ff00"/>
<rect x="1148" y="502" width="3" height="17" fill="#00ff00"/>
<rect x="1153" y="481" width="1" height="46" fill="#ff0000"/>
<rect x="1152" y="490" width="3" height="29" fill="#ff0000"/>
<rect x="1157" y="484" width="1" height="53" fill="#00ff00"/>
<rect x="1156" y="489" width="3" height="15" fill="#00ff00"/>
<rect x="1161" y="465" width="1" height="39" fill="#ff0000"/>
<rect x="1160" y="481" width="3" height="23" fill="#ff0000"/>
<rect x="1165" y="454" width="1" height="34" fill="#ff0000"/>
<rect x="1164" y="478" width="3" height="3" fill="#ff0000"/>
<rect x="1169" y="477" width="1" height="12" fill="#00ff00"/>
<rect x="1168" y="478" width="3" height="9" fill="#00ff00"/>
<rect x="1173" y="475" width="1" height="34" fill="#00ff00"/>
<rect x="1172" y="482" width="3" height="19" fill="#00ff00"/>
<rect x="1177" y="495" width="1" height="39" fill="#00ff00"/>
<rect x="1176" y="495" width="3" height="28" fill="#00ff00"/>
<rect x="1181" y="518" width="1" height="44" fill="#00ff00"/>
<rect x="1180" y="522" width="3" height="28" fill="#00ff00"/>
<rect x="1185" y="547" width="1" height="34" fill="#00ff00"/>
<rect x="1184" y="548" width="3" height="9" fill="#00ff00"/>
<rect x="1189" y="511" width="1" height="47" fill="#ff0000"/>
<rect x="1188" y="524" width="3" height="33" fill="#ff0000"/>
<rect x="1193" y="520" width="1" height="9" fill="#00ff00"/>
<rect x="1192" y="524" width="3" height="4" fill="#00ff00"/>
<rect x="1197" y="506" width="1" height="23" fill="#ff0000"/>
<rect x="1196" y="511" width="3" height="16" fill="#ff0000"/>
<rect x="1201" y="509" width="1" height="30" fill="#00ff00"/>
<rect x="1200" y="511" width="3" height="16" fill="#00ff00"/>
<rect x="1205" y="482" width="1" height="47" fill="#ff0000"/>
<rect x="1204" y="505" width="3" height="22" fill="#ff0000"/>
<rect x="1209" y="505" width="1" height="28" fill="#00ff00"/>
<rect x="1208" y="505" width="3" height="9" fill="#00ff00"/>
<rect x="1213" y="493" width="1" height="25" fill="#ff0000"/>
<rect x="1212" y="500" width="3" height="14" fill="#ff0000"/>
<rect x="1217" y="491" width="1" height="15" fill="#00ff00"/>
<rect x="1216" y="498" width="3" height="4" fill="#00ff00"/>
<rect x="1221" y="490" width="1" height="31" fill="#00ff00"/>
<rect x="1220" y="505" width="3" height="4" fill="#00ff00"/>
<rect x="1225" y="472" width="1" height="53" fill="#ff0000"/>
<rect x="1224" y="475" width="3" height="34" fill="#ff0000"/>
<rect x="1229" y="452" width="1" height="33" fill="#ff0000"/>
<rect x="1228" y="464" width="3" height="12" fill="#ff0000"/>
<rect x="1233" y="460" width="1" height="64" fill="#00ff00"/>
<rect x="1232" y="464" width="3" height="58" fill="#00ff00"/>
<rect x="1237" y="495" width="1" height="60" fill="#00ff00"/>
<rect x="1236" y="521" width="3" height="34" fill="#00ff00"/>
<rect x="1241" y="551" width="1" height="16" fill="#00ff00"/>
<rect x="1240" y="553" width="3" height="11" fill="#00ff00"/>
<rect x="1245" y="533" width="1" height="34" fill="#ff0000"/>
<rect x="1244" y="539" width="3" height="27" fill="#ff0000"/>
<rect x="1249" y="506" width="1" height="45" fill="#ff0000"/>
<rect x="1248" y="507" width="3" height="35" fill="#ff0000"/>
<rect x="1253" y="466" width="1" height="61" fill="#ff0000"/>
<rect x="1252" y="480" width="3" height="29" fill="#ff0000"/>
<rect x="1257" y="460" width="1" height="29" fill="#ff0000"/>
<rect x="1256" y="465" width="3" height="17" fill="#ff0000"/>
<rect x="1261" y="453" width="1" height="21" fill="#ff0000"/>
<rect x="1260" y="453" width="3" height="14" fill="#ff0000"/>
<rect x="1265" y="438" width="1" height="19" fill="#ff0000"/>
<rect x="1264" y="446" width="3" height="8" fill="#ff0000"/>
<rect x="1269" y="435" width="1" height="19" fill="#ff0000"/>
<rect x="1268" y="446" width="3" height="8" fill="#ff0000"/>
<rect x="1273" y="431" width="1" height="19" fill="#ff0000"/>
<rect x="1272" y="446" width="3" height="3" fill="#ff0000"/>
<rect x="1277" y="445" width="1" height="27" fill="#00ff00"/>
<rect x="1276" y="446" width="3" height="4" fill="#00ff00"/>
<rect x="1281" y="426" width="1" height="30" fill="#ff0000"/>
<rect x="1280" y="436" width="3" height="14" fill="#ff0000"/>
<rect x="1285" y="404" width="1" height="34" fill="#ff0000"/>
<rect x="1284" y="410" width="3" height="27" fill="#ff0000"/>
<rect x="1289" y="402" width="1" height="11" fill="#ff0000"/>
<rect x="1288" y="407" width="3" height="4" fill="#ff0000"/>
<rect x="1293" y="399" width="1" height="14" fill="#ff0000"/>
<rect x="1292" y="406" width="3" height="6" fill="#ff0000"/>
<rect x="1297" y="390" width="1" height="37" fill="#00ff00"/>
<rect x="1296" y="407" width="3" height="4" fill="#00ff00"/>
<rect x="1301" y="385" width="1" height="31" fill="#ff0000"/>
<rect x="1300" y="393" width="3" height="18" fill="#ff0000"/>
<rect x="1305" y="384" width="1" height="19" fill="#00ff00"/>
<rect x="1304" y="393" width="3" height="5" fill="#00ff00"/>
<polyline points="5.5,330.9 9.5,327.3 13.5,323.5 17.5,319.4 21.5,313.1 25.5,305.7 29.5,297.6 33.5,289.6 37.5,283.7 41.5,278.1 45.5,272.3 49.5,267.5 53.5,264.8 57.5,263.1 61.5,261.5 65.5,260.0 69.5,258.9 73.5,258.1 77.5,257.5 81.5,256.8 85.5,255.3 89.5,253.9 93.5,251.9 97.5,249.2 101.5,247.1 105.5,243.0 109.5,239.3 113.5,235.7 117.5,231.8 121.5,229.3 125.5,228.2 129.5,227.2 133.5,226.6 137.5,225.9 141.5,227.0 145.5,229.0 149.5,231.9 153.5,236.1 157.5,239.6 161.5,242.5 165.5,245.9 169.5,248.1 173.5,249.4 177.5,250.7 181.5,251.7 185.5,252.9 189.5,253.3 193.5,253.8 197.5,254.3 201.5,253.2 205.5,252.8 209.5,252.7 213.5,252.8 217.5,253.8 221.5,254.5 225.5,256.1 229.5,257.7 233.5,259.0 237.5,261.0 241.5,261.5 245.5,260.0 249.5,256.9 253.5,253.3 257.5,250.0 261.5,245.7 265.5,239.6 269.5,233.7 273.5,225.9 277.5,218.9 281.5,212.1 285.5,204.2 289.5,196.9 293.5,191.6 297.5,185.2 301.5,179.3 305.5,173.3 309.5,167.9 313.5,161.5 317.5,155.4 321.5,151.8 325.5,148.8 329.5,145.2 333.5,143.3 337.5,140.8 341.5,138.8 345.5,136.7 349.5,134.2 353.5,131.9 357.5,130.7 361.5,129.6 365.5,129.9 369.5,133.1 373.5,136.8 377.5,140.4 381.5,143.6 385.5,147.3 389.5,150.6 393.5,154.1 397.5,158.5 401.5,163.6 405.5,169.5 409.5,176.7 413.5,182.9 417.5,191.1 421.5,199.5 425.5,208.1 429.5,215.9 433.5,224.0 437.5,230.8 441.5,235.9 445.5,239.2 449.5,243.0 453.5,245.4 457.5,248.0 461.5,251.6 465.5,259.5 469.5,268.4 473.5,278.0 477.5,288.2 481.5,298.7 485.5,307.9 489.5,315.6 493.5,322.9 497.5,330.3 501.5,335.3 505.5,341.6 509.5,347.3 513.5,353.5 517.5,356.5 521.5,359.0 525.5,360.6 529.5,360.8 533.5,361.6 537.5,361.6 541.5,362.4 545.5,363.1 549.5,364.6 553.5,365.5 557.5,367.9 561.5,370.2 565.5,375.0 569.5,379.6 573.5,384.3 577.5,388.3 581.5,391.3 585.5,389.1 589.5,385.1 593.5,380.2 597.5,374.7 601.5,369.7 605.5,365.7 609.5,360.9 613.5,359.1 617.5,357.2 621.5,361.2 625.5,363.4 629.5,367.7 633.5,370.5 637.5,376.5 641.5,381.9 645.5,388.7 649.5,393.9 653.5,398.3 657.5,401.7 661.5,403.0 665.5,404.7 669.5,405.7 673.5,408.5 677.5,409.7 681.5,410.6 685.5,412.6 689.5,415.0 693.5,415.9 697.5,416.9 701.5,418.2 705.5,419.5 709.5,420.5 713.5,421.5 717.5,421.8 721.5,422.8 725.5,425.2 729.5,427.2 733.5,425.8 737.5,424.3 741.5,419.0 745.5,415.5 749.5,409.2 753.5,405.3 757.5,400.1 761.5,394.9 765.5,388.7 769.5,383.6 773.5,377.5 777.5,372.9 781.5,369.2 785.5,365.5 789.5,363.1 793.5,360.8 797.5,358.3 801.5,355.6 805.5,350.8 809.5,346.3 813.5,340.8 817.5,337.4 821.5,332.6 825.5,329.3 829.5,327.6 833.5,326.5 837.5,325.3 841.5,323.3 845.5,319.6 849.5,317.2 853.5,314.4 857.5,311.7 861.5,310.0 865.5,307.9 869.5,307.3 873.5,307.9 877.5,309.1 881.5,310.7 885.5,312.2 889.5,313.2 893.5,314.4 897.5,314.5 901.5,314.1 905.5,313.2 909.5,311.4 913.5,309.6 917.5,309.7 921.5,311.4 925.5,313.3 929.5,314.5 933.5,317.7 937.5,318.2 941.5,319.7 945.5,320.4 949.5,320.2 953.5,319.4 957.5,319.5 961.5,319.4 965.5,321.0 969.5,322.9 973.5,325.0 977.5,327.2 981.5,329.8 985.5,332.2 989.5,333.1 993.5,331.9 997.5,329.1 1001.5,325.6 1005.5,322.6 1009.5,319.9 1013.5,317.7 1017.5,315.9 1021.5,314.5 1025.5,313.1 1029.5,313.9 1033.5,316.0 1037.5,316.5 1041.5,316.1 1045.5,314.6 1049.5,313.4 1053.5,312.9 1057.5,314.5 1061.5,316.2 1065.5,318.4 1069.5,322.3 1073.5,326.0 1077.5,328.9 1081.5,333.0 1085.5,335.2 1089.5,338.1 1093.5,340.2 1097.5,342.1 1101.5,343.7 1105.5,346.3 1109.5,349.9 1113.5,352.7 1117.5,358.3 1121.5,365.1 1125.5,372.9 1129.5,381.4 1133.5,390.2 1137.5,398.4 1141.5,406.5 1145.5,414.3 1149.5,421.1 1153.5,425.1 1157.5,430.3 1161.5,434.5 1165.5,439.4 1169.5,444.4 1173.5,449.3 1177.5,454.4 1181.5,460.4 1185.5,466.8 1189.5,471.0 1193.5,475.7 1197.5,479.8 1201.5,483.1 1205.5,486.3 1209.5,488.8 1213.5,491.9 1217.5,495.4 1221.5,498.8 1225.5,500.7 1229.5,501.9 1233.5,505.6 1237.5,508.8 1241.5,511.6 1245.5,512.5 1249.5,512.1 1253.5,510.5 1257.5,508.9 1261.5,507.4 1265.5,506.0 1269.5,503.6 1273.5,502.1 1277.5,500.3 1281.5,498.8 1285.5,496.6 1289.5,493.9 1293.5,490.8 1297.5,487.1 1301.5,481.9 1305.5,476.6" fill="none" stroke="#0000cd" stroke-width="1" />
<polyline points="5.5,290.7 9.5,288.8 13.5,286.6 17.5,282.8 21.5,276.4 25.5,268.7 29.5,259.7 33.5,251.9 37.5,245.8 41.5,239.1 45.5,233.4 49.5,229.2 53.5,227.7 57.5,227.6 61.5,228.0 65.5,228.4 69.5,228.5 73.5,228.1 77.5,231.4 81.5,238.1 85.5,243.4 89.5,248.0 93.5,252.1 97.5,252.9 101.5,252.6 105.5,248.6 109.5,243.7 113.5,239.1 117.5,232.4 121.5,227.5 125.5,224.9 129.5,222.6 133.5,220.3 137.5,216.5 141.5,215.6 145.5,215.4 149.5,216.9 153.5,223.6 157.5,229.9 161.5,238.1 165.5,247.6 169.5,255.7 173.5,265.6 177.5,273.4 181.5,278.4 185.5,283.4 189.5,285.7 193.5,288.0 197.5,289.9 201.5,289.9 205.5,288.1 209.5,283.6 213.5,280.4 217.5,277.1 221.5,271.1 225.5,265.7 229.5,261.5 233.5,257.0 237.5,252.3 241.5,245.9 245.5,239.2 249.5,229.1 253.5,218.1 257.5,209.7 261.5,200.5 265.5,187.2 269.5,175.9 273.5,163.9 277.5,153.6 281.5,143.9 285.5,132.9 289.5,122.6 293.5,116.8 297.5,109.9 301.5,105.4 305.5,104.3 309.5,102.6 313.5,98.3 317.5,96.5 321.5,101.8 325.5,106.3 329.5,110.6 333.5,118.2 337.5,124.3 341.5,130.9 345.5,136.7 349.5,138.5 353.5,142.7 357.5,148.2 361.5,152.4 365.5,157.8 369.5,168.4 373.5,178.3 377.5,185.3 381.5,189.3 385.5,191.7 389.5,191.6 393.5,192.4 397.5,195.9 401.5,201.6 405.5,208.5 409.5,218.8 413.5,228.6 417.5,241.7 421.5,254.6 425.5,264.9 429.5,272.1 433.5,277.5 437.5,283.4 441.5,291.7 445.5,296.2 449.5,301.2 453.5,304.4 457.5,305.1 461.5,307.0 465.5,314.1 469.5,321.9 473.5,328.9 477.5,338.2 481.5,346.6 485.5,354.9 489.5,364.5 493.5,375.8 497.5,387.4 501.5,395.1 505.5,403.0 509.5,409.9 513.5,418.4 517.5,420.6 521.5,414.9 525.5,405.9 529.5,396.3 533.5,385.9 537.5,376.4 541.5,371.3 545.5,366.8 549.5,361.4 553.5,353.1 557.5,353.2 561.5,352.9 565.5,355.6 569.5,357.1 573.5,363.8 577.5,367.8 581.5,372.9 585.5,374.7 589.5,372.2 593.5,368.8 597.5,364.6 601.5,360.7 605.5,357.4 609.5,354.5 613.5,357.1 617.5,359.5 621.5,365.6 625.5,368.2 629.5,374.5 633.5,380.4 637.5,388.9 641.5,399.4 645.5,413.6 649.5,425.6 653.5,436.4 657.5,445.0 661.5,451.2 665.5,460.6 669.5,461.2 673.5,463.1 677.5,457.2 681.5,454.1 685.5,451.8 689.5,452.4 693.5,448.2 697.5,442.7 701.5,436.1 705.5,429.6 709.5,419.8 713.5,411.1 717.5,404.8 721.5,399.5 725.5,399.1 729.5,394.5 733.5,391.6 737.5,388.9 741.5,379.1 745.5,369.3 749.5,360.1 753.5,355.6 757.5,350.1 761.5,346.8 765.5,345.5 769.5,344.4 773.5,341.6 777.5,338.1 781.5,331.3 785.5,328.4 789.5,326.8 793.5,327.1 797.5,327.1 801.5,325.9 805.5,326.7 809.5,325.9 813.5,321.1 817.5,319.4 821.5,316.1 825.5,313.2 829.5,312.8 833.5,311.6 837.5,310.6 841.5,309.2 845.5,305.9 849.5,301.1 853.5,297.6 857.5,294.8 861.5,291.8 865.5,287.0 869.5,288.3 873.5,292.4 877.5,299.6 881.5,307.0 885.5,312.6 889.5,316.0 893.5,318.4 897.5,319.3 901.5,319.5 905.5,319.9 909.5,320.3 913.5,322.6 917.5,326.4 921.5,333.4 925.5,339.6 929.5,340.2 933.5,339.6 937.5,335.6 941.5,332.1 945.5,328.6 949.5,325.1 953.5,322.0 957.5,322.0 961.5,322.4 965.5,326.5 969.5,329.6 973.5,330.3 977.5,328.5 981.5,327.2 985.5,324.9 989.5,321.3 993.5,321.7 997.5,319.7 1001.5,318.1 1005.5,317.8 1009.5,317.1 1013.5,314.5 1017.5,311.8 1021.5,305.6 1025.5,298.7 1029.5,296.6 1033.5,298.6 1037.5,298.0 1041.5,299.0 1045.5,299.9 1049.5,300.6 1053.5,304.9 1057.5,311.8 1061.5,318.3 1065.5,325.4 1069.5,335.0 1073.5,343.6 1077.5,352.9 1081.5,365.2 1085.5,372.1 1089.5,376.9 1093.5,381.1 1097.5,384.2 1101.5,389.5 1105.5,395.4 1109.5,400.7 1113.5,403.6 1117.5,409.9 1121.5,418.1 1125.5,426.3 1129.5,435.9 1133.5,445.7 1137.5,451.9 1141.5,458.4 1145.5,462.0 1149.5,469.9 1153.5,476.5 1157.5,483.5 1161.5,487.9 1165.5,491.6 1169.5,496.9 1173.5,500.0 1177.5,503.1 1181.5,505.7 1185.5,508.3 1189.5,508.1 1193.5,509.1 1197.5,509.9 1201.5,512.7 1205.5,511.8 1209.5,513.4 1213.5,513.2 1217.5,514.6 1221.5,516.8 1225.5,516.0 1229.5,513.4 1233.5,513.4 1237.5,513.7 1241.5,514.2 1245.5,515.3 1249.5,513.9 1253.5,511.6 1257.5,507.3 1261.5,503.6 1265.5,498.8 1269.5,494.9 1273.5,491.0 1277.5,486.8 1281.5,484.0 1285.5,480.1 1289.5,472.0 1293.5,461.4 1297.5,450.5 1301.5,440.1 1305.5,432.2" fill="none" stroke="#ff0000" stroke-width="1" />
<polyline points="5.5,277.5 9.5,266.6 13.5,257.3 17.5,252.4 21.5,244.6 25.5,233.2 29.5,221.7 33.5,210.1 37.5,198.7 41.5,197.5 45.5,203.1 49.5,213.1 53.5,226.1 57.5,237.9 61.5,246.3 65.5,252.5 69.5,255.3 73.5,253.5 77.5,255.1 81.5,261.5 85.5,263.9 89.5,264.7 93.5,265.9 97.5,257.7 101.5,243.7 105.5,227.7 109.5,214.1 113.5,201.5 117.5,188.9 121.5,182.3 125.5,188.7 129.5,194.3 133.5,202.3 137.5,217.1 141.5,230.7 145.5,238.1 149.5,249.9 153.5,267.1 157.5,281.1 161.5,290.7 165.5,304.5 169.5,310.3 173.5,306.3 177.5,304.1 181.5,301.3 185.5,294.5 189.5,286.3 193.5,279.9 197.5,277.1 201.5,270.3 205.5,263.1 209.5,261.3 213.5,259.7 217.5,254.7 221.5,251.9 225.5,247.5 229.5,244.3 233.5,238.7 237.5,231.9 241.5,223.9 245.5,212.1 249.5,189.1 253.5,168.3 257.5,151.1 261.5,136.1 265.5,115.7 269.5,110.7 273.5,102.7 277.5,94.7 281.5,89.1 285.5,92.1 289.5,89.7 293.5,100.1 297.5,101.7 301.5,104.3 305.5,109.1 309.5,112.3 313.5,99.3 317.5,98.5 321.5,105.5 325.5,116.3 329.5,125.1 333.5,150.5 337.5,166.9 341.5,173.7 345.5,174.9 349.5,178.1 353.5,170.3 357.5,171.3 361.5,169.1 365.5,171.3 369.5,182.9 373.5,198.1 377.5,209.3 381.5,219.7 385.5,220.1 389.5,215.5 393.5,206.3 397.5,203.3 401.5,209.5 405.5,225.1 409.5,246.5 413.5,272.7 417.5,297.5 421.5,319.5 425.5,340.7 429.5,347.3 433.5,346.3 437.5,336.3 441.5,324.1 445.5,303.3 449.5,287.9 453.5,278.5 457.5,270.3 461.5,267.9 465.5,296.5 469.5,330.5 473.5,366.1 477.5,412.3 481.5,451.7 485.5,461.7 489.5,465.7 493.5,467.7 497.5,461.9 501.5,438.9 505.5,422.5 509.5,405.7 513.5,389.7 517.5,360.9 521.5,351.9 525.5,338.7 529.5,327.9 533.5,321.1 537.5,327.7 541.5,339.7 545.5,356.1 549.5,369.9 553.5,370.1 557.5,374.1 561.5,371.1 565.5,374.3 569.5,377.9 573.5,390.9 577.5,392.7 581.5,394.5 585.5,381.5 589.5,363.3 593.5,341.7 597.5,330.9 601.5,322.1 605.5,321.3 609.5,320.5 613.5,341.3 617.5,356.7 621.5,387.9 625.5,408.3 629.5,446.9 633.5,457.9 637.5,476.7 641.5,476.3 645.5,490.5 649.5,484.7 653.5,487.7 657.5,479.3 661.5,466.3 665.5,452.1 669.5,441.1 673.5,431.5 677.5,422.1 681.5,416.3 685.5,422.1 689.5,433.3 693.5,435.1 697.5,435.7 701.5,440.3 705.5,422.5 709.5,396.3 713.5,375.3 717.5,360.1 721.5,349.5 725.5,355.7 729.5,360.7 733.5,367.5 737.5,371.9 741.5,365.1 745.5,349.9 749.5,338.9 753.5,334.9 757.5,331.5 761.5,331.9 765.5,329.7 769.5,331.1 773.5,320.9 777.5,316.1 781.5,312.3 785.5,312.9 789.5,318.3 793.5,331.3 797.5,334.3 801.5,334.7 805.5,334.1 809.5,332.5 813.5,314.9 817.5,310.3 821.5,302.3 825.5,293.3 829.5,284.1 833.5,289.3 837.5,287.5 841.5,293.7 845.5,297.9 849.5,298.5 853.5,295.1 857.5,290.5 861.5,285.3 865.5,279.5 869.5,279.1 873.5,295.7 877.5,315.9 881.5,335.9 885.5,355.7 889.5,366.9 893.5,360.3 897.5,348.7 901.5,332.9 905.5,318.9 909.5,307.1 913.5,302.5 917.5,305.3 921.5,318.5 925.5,334.3 929.5,351.5 933.5,363.5 937.5,361.5 941.5,351.9 945.5,336.3 949.5,318.1 953.5,299.3 957.5,294.9 961.5,291.9 965.5,301.1 969.5,314.9 973.5,328.5 977.5,336.7 981.5,347.7 985.5,346.9 989.5,340.3 993.5,337.5 997.5,327.3 1001.5,310.7 1005.5,298.3 1009.5,287.7 1013.5,274.7 1017.5,269.7 1021.5,266.3 1025.5,261.5 1029.5,271.1 1033.5,292.3 1037.5,309.1 1041.5,328.3 1045.5,343.7 1049.5,348.5 1053.5,344.9 1057.5,349.3 1061.5,352.3 1065.5,358.9 1069.5,371.1 1073.5,377.9 1077.5,381.5 1081.5,392.9 1085.5,402.1 1089.5,409.7 1093.5,414.1 1097.5,415.9 1101.5,411.7 1105.5,413.5 1109.5,411.5 1113.5,412.5 1117.5,424.3 1121.5,439.1 1125.5,457.7 1129.5,476.5 1133.5,499.3 1137.5,510.5 1141.5,514.7 1145.5,509.7 1149.5,509.3 1153.5,502.1 1157.5,500.1 1161.5,496.3 1165.5,494.5 1169.5,488.1 1173.5,490.1 1177.5,493.9 1181.5,507.5 1185.5,523.1 1189.5,530.7 1193.5,536.1 1197.5,533.9 1201.5,529.3 1205.5,519.1 1209.5,516.9 1213.5,511.5 1217.5,509.5 1221.5,505.9 1225.5,499.9 1229.5,490.1 1233.5,494.3 1237.5,504.9 1241.5,515.9 1245.5,528.7 1249.5,537.3 1253.5,529.1 1257.5,511.3 1261.5,489.3 1265.5,470.7 1269.5,458.5 1273.5,451.7 1277.5,448.5 1281.5,445.1 1285.5,437.9 1289.5,430.1 1293.5,422.1 1297.5,414.3 1301.5,405.7 1305.5,403.1" fill="none" stroke="#ffa500" stroke-width="1" />
<rect x="5" y="150" width="1636" height="2" fill="#ff0000"/>
<rect x="5" y="269" width="1636" height="2" fill="#ff0000"/>
<rect x="5" y="361" width="1636" height="2" fill="#ff0000"/>
<rect x="5" y="449" width="1636" height="2" fill="#00ff00"/>
<rect x="5" y="521" width="1636" height="2" fill="#ff0000"/>
<rect x="5" y="588" width="1636" height="2" fill="#0000ff"/>
<path d="M1307.5 27 L1317.5 27 L1312.5 32.3 Z" fill="#c0c0c0" shape-rendering="geometricPrecision"/>
</g>
<path d="M8 33 L15 33 L11.5 37 Z" fill="#000" shape-rendering="geometricPrecision"/>
<text x="20" y="38" font-family="Liberation Sans, sans-serif" font-size="9.5" fill="#000" stroke="#000" stroke-width="0.2" textLength="65.5" lengthAdjust="spacingAndGlyphs" shape-rendering="geometricPrecision">USDCHF,Daily</text>
<text x="90.5" y="38" font-family="Liberation Sans, sans-serif" font-size="9.5" fill="#000" stroke="#000" stroke-width="0.2" textLength="33" lengthAdjust="spacingAndGlyphs" shape-rendering="geometricPrecision">0.98331</text>
<text x="126.5" y="38" font-family="Liberation Sans, sans-serif" font-size="9.5" fill="#000" stroke="#000" stroke-width="0.2" textLength="33" lengthAdjust="spacingAndGlyphs" shape-rendering="geometricPrecision">0.98436</text>
<text x="162.5" y="38" font-family="Liberation Sans, sans-serif" font-size="9.5" fill="#000" stroke="#000" stroke-width="0.2" textLength="33" lengthAdjust="spacingAndGlyphs" shape-rendering="geometricPrecision">0.98222</text>
<text x="198.5" y="38" font-family="Liberation Sans, sans-serif" font-size="9.5" fill="#000" stroke="#000" stroke-width="0.2" textLength="33" lengthAdjust="spacingAndGlyphs" shape-rendering="geometricPrecision">0.98285</text>
<rect x="1642" y="29" width="2" height="1" fill="#000"/>
<text x="1646.5" y="33" font-family="Liberation Sans, sans-serif" font-size="9.5" fill="#000" stroke="#000" stroke-width="0.2" textLength="34" lengthAdjust="spacingAndGlyphs" shape-rendering="geometricPrecision">1.02660</text>
<rect x="1642" y="62" width="2" height="1" fill="#000"/>
<text x="1646.5" y="66" font-family="Liberation Sans, sans-serif" font-size="9.5" fill="#000" stroke="#000" stroke-width="0.2" textLength="34" lengthAdjust="spacingAndGlyphs" shape-rendering="geometricPrecision">1.02270</text>
<rect x="1642" y="95" width="2" height="1" fill="#000"/>
<text x="1646.5" y="99" font-family="Liberation Sans, sans-serif" font-size="9.5" fill="#000" stroke="#000" stroke-width="0.2" textLength="34" lengthAdjust="spacingAndGlyphs" shape-rendering="geometricPrecision">1.01880</text>
<rect x="1642" y="128" width="2" height="1" fill="#000"/>
<text x="1646.5" y="132" font-family="Liberation Sans, sans-serif" font-size="9.5" fill="#000" stroke="#000" stroke-width="0.2" textLength="34" lengthAdjust="spacingAndGlyphs" shape-rendering="geometricPrecision">1.01480</text>
<rect x="1642" y="161" width="2" height="1" fill="#000"/>
<text x="1646.5" y="165" font-family="Liberation Sans, sans-serif" font-size="9.5" fill="#000" stroke="#000" stroke-width="0.2" textLength="34" lengthAdjust="spacingAndGlyphs" shape-rendering="geometricPrecision">1.01090</text>
<rect x="1642" y="194" width="2" height="1" fill="#000"/>
<text x="1646.5" y="198" font-family="Liberation Sans, sans-serif" font-size="9.5" fill="#000" stroke="#000" stroke-width="0.2" textLength="34" lengthAdjust="spacingAndGlyphs" shape-rendering="geometricPrecision">1.00700</text>
<rect x="1642" y="227" width="2" height="1" fill="#000"/>
<text x="1646.5" y="231" font-family="Liberation Sans, sans-serif" font-size="9.5" fill="#000" stroke="#000" stroke-width="0.2" textLength="34" lengthAdjust="spacingAndGlyphs" shape-rendering="geometricPrecision">1.00310</text>
<rect x="1642" y="260" width="2" height="1" fill="#000"/>
<text x="1646.5" y="264" font-family="Liberation Sans, sans-serif" font-size="9.5" fill="#000" stroke="#000" stroke-width="0.2" textLength="34" lengthAdjust="spacingAndGlyphs" shape-rendering="geometricPrecision">0.99910</text>
<rect x="1642" y="293" width="2" height="1" fill="#000"/>
<text x="1646.5" y="297" font-family="Liberation Sans, sans-serif" font-size="9.5" fill="#000" stroke="#000" stroke-width="0.2" textLength="34" lengthAdjust="spacingAndGlyphs" shape-rendering="geometricPrecision">0.99520</text>
<rect x="1642" y="326" width="2" height="1" fill="#000"/>
<text x="1646.5" y="330" font-family="Liberation Sans, sans-serif" font-size="9.5" fill="#000" stroke="#000" stroke-width="0.2" textLength="34" lengthAdjust="spacingAndGlyphs" shape-rendering="geometricPrecision">0.99130</text>
<rect x="1642" y="359" width="2" height="1" fill="#000"/>
<text x="1646.5" y="363" font-family="Liberation Sans, sans-serif" font-size="9.5" fill="#000" stroke="#000" stroke-width="0.2" textLength="34" lengthAdjust="spacingAndGlyphs" shape-rendering="geometricPrecision">0.98740</text>
<rect x="1642" y="392" width="2" height="1" fill="#000"/>
<text x="1646.5" y="396" font-family="Liberation Sans, sans-serif" font-size="9.5" fill="#000" stroke="#000" stroke-width="0.2" textLength="34" lengthAdjust="spacingAndGlyphs" shape-rendering="geometricPrecision">0.98340</text>
<rect x="1642" y="425" width="2" height="1" fill="#000"/>
<text x="1646.5" y="429" font-family="Liberation Sans, sans-serif" font-size="9.5" fill="#000" stroke="#000" stroke-width="0.2" textLength="34" lengthAdjust="spacingAndGlyphs" shape-rendering="geometricPrecision">0.97950</text>
<rect x="1642" y="458" width="2" height="1" fill="#000"/>
<text x="1646.5" y="462" font-family="Liberation Sans, sans-serif" font-size="9.5" fill="#000" stroke="#000" stroke-width="0.2" textLength="34" lengthAdjust="spacingAndGlyphs" shape-rendering="geometricPrecision">0.97560</text>
<rect x="1642" y="491" width="2" height="1" fill="#000"/>
<text x="1646.5" y="495" font-family="Liberation Sans, sans-serif" font-size="9.5" fill="#000" stroke="#000" stroke-width="0.2" textLength="34" lengthAdjust="spacingAndGlyphs" shape-rendering="geometricPrecision">0.97170</text>
<rect x="1642" y="524" width="2" height="1" fill="#000"/>
<text x="1646.5" y="528" font-family="Liberation Sans, sans-serif" font-size="9.5" fill="#000" stroke="#000" stroke-width="0.2" textLength="34" lengthAdjust="spacingAndGlyphs" shape-rendering="geometricPrecision">0.96780</text>
<rect x="1642" y="557" width="2" height="1" fill="#000"/>
<text x="1646.5" y="561" font-family="Liberation Sans, sans-serif" font-size="9.5" fill="#000" stroke="#000" stroke-width="0.2" textLength="34" lengthAdjust="spacingAndGlyphs" shape-rendering="geometricPrecision">0.96380</text>
<rect x="1642" y="590" width="2" height="1" fill="#000"/>
<text x="1646.5" y="594" font-family="Liberation Sans, sans-serif" font-size="9.5" fill="#000" stroke="#000" stroke-width="0.2" textLength="34" lengthAdjust="spacingAndGlyphs" shape-rendering="geometricPrecision">0.95990</text>
<rect x="1643" y="145" width="41" height="11" fill="#ff0000"/>
<text x="1646.5" y="154" font-family="Liberation Sans, sans-serif" font-size="9.5" fill="#fff" stroke="#fff" stroke-width="0.2" textLength="34" lengthAdjust="spacingAndGlyphs" shape-rendering="geometricPrecision">1.01207</text>
<rect x="1643" y="264" width="41" height="11" fill="#ff0000"/>
<text x="1646.5" y="273" font-family="Liberation Sans, sans-serif" font-size="9.5" fill="#fff" stroke="#fff" stroke-width="0.2" textLength="34" lengthAdjust="spacingAndGlyphs" shape-rendering="geometricPrecision">0.99800</text>
<rect x="1643" y="356" width="41" height="11" fill="#ff0000"/>
<text x="1646.5" y="365" font-family="Liberation Sans, sans-serif" font-size="9.5" fill="#fff" stroke="#fff" stroke-width="0.2" textLength="34" lengthAdjust="spacingAndGlyphs" shape-rendering="geometricPrecision">0.98703</text>
<rect x="1643" y="392" width="41" height="11" fill="#000000"/>
<text x="1646.5" y="401" font-family="Liberation Sans, sans-serif" font-size="9.5" fill="#fff" stroke="#fff" stroke-width="0.2" textLength="34" lengthAdjust="spacingAndGlyphs" shape-rendering="geometricPrecision">0.98285</text>
<rect x="1643" y="444" width="41" height="11" fill="#00ff00"/>
<text x="1646.5" y="453" font-family="Liberation Sans, sans-serif" font-size="9.5" fill="#fff" stroke="#fff" stroke-width="0.2" textLength="34" lengthAdjust="spacingAndGlyphs" shape-rendering="geometricPrecision">0.97658</text>
<rect x="1643" y="516" width="41" height="11" fill="#ff0000"/>
<text x="1646.5" y="525" font-family="Liberation Sans, sans-serif" font-size="9.5" fill="#fff" stroke="#fff" stroke-width="0.2" textLength="34" lengthAdjust="spacingAndGlyphs" shape-rendering="geometricPrecision">0.96803</text>
<rect x="1643" y="583" width="41" height="11" fill="#0000ff"/>
<text x="1646.5" y="592" font-family="Liberation Sans, sans-serif" font-size="9.5" fill="#fff" stroke="#fff" stroke-width="0.2" textLength="34" lengthAdjust="spacingAndGlyphs" shape-rendering="geometricPrecision">0.96008</text>
<g clip-path="url(#cr)">
<line x1="6" y1="627.5" x2="1641" y2="627.5" stroke="#c0c0c0" stroke-width="1" stroke-dasharray="3,3"/>
<line x1="6" y1="668.5" x2="1641" y2="668.5" stroke="#c0c0c0" stroke-width="1" stroke-dasharray="3,3"/>
<polyline points="5.5,636.0 9.5,635.4 13.5,635.9 17.5,636.5 21.5,630.0 25.5,626.3 29.5,624.2 33.5,625.2 37.5,626.2 41.5,632.6 45.5,635.3 49.5,641.7 53.5,647.7 57.5,647.1 61.5,646.8 65.5,645.8 69.5,646.2 73.5,644.7 77.5,650.6 81.5,658.0 85.5,649.4 89.5,647.1 93.5,646.4 97.5,637.1 101.5,635.6 105.5,628.7 109.5,630.7 113.5,631.9 117.5,625.9 121.5,634.8 125.5,644.3 129.5,644.6 133.5,648.7 137.5,649.2 141.5,653.8 145.5,654.1 149.5,659.5 153.5,667.1 157.5,662.6 161.5,661.3 165.5,665.2 169.5,659.8 173.5,657.7 177.5,656.1 181.5,654.0 185.5,654.5 189.5,647.2 193.5,647.7 197.5,651.5 201.5,643.8 205.5,643.8 209.5,644.8 213.5,645.8 217.5,644.5 221.5,639.7 225.5,637.5 229.5,641.1 233.5,638.5 237.5,635.7 241.5,630.4 245.5,625.2 249.5,618.9 253.5,619.7 257.5,623.0 261.5,621.5 265.5,615.7 269.5,626.0 273.5,624.4 277.5,627.0 281.5,627.3 285.5,625.7 289.5,626.8 293.5,642.6 297.5,636.1 301.5,637.6 305.5,637.6 309.5,636.7 313.5,631.4 317.5,638.6 321.5,648.9 325.5,652.5 329.5,649.3 333.5,658.3 337.5,654.1 341.5,653.5 345.5,651.5 349.5,650.4 353.5,650.0 357.5,654.9 361.5,650.3 365.5,653.0 369.5,660.3 373.5,662.7 377.5,663.3 381.5,657.2 385.5,649.0 389.5,652.2 393.5,650.7 397.5,656.9 401.5,660.4 405.5,661.8 409.5,667.7 413.5,669.5 417.5,672.3 421.5,673.2 425.5,673.8 429.5,666.3 433.5,661.1 437.5,657.1 441.5,656.7 445.5,648.7 449.5,648.7 453.5,650.5 457.5,648.0 461.5,653.6 465.5,668.9 469.5,671.2 473.5,672.6 477.5,675.7 481.5,674.1 485.5,667.6 489.5,667.0 493.5,667.7 497.5,668.0 501.5,649.8 505.5,650.4 509.5,649.5 513.5,651.3 517.5,641.7 521.5,642.8 525.5,640.4 529.5,641.7 533.5,647.3 537.5,648.4 541.5,653.8 545.5,654.6 549.5,653.3 553.5,646.2 557.5,650.7 561.5,650.3 565.5,656.2 569.5,655.4 573.5,657.0 577.5,650.4 581.5,649.9 585.5,642.8 589.5,638.1 593.5,637.0 597.5,642.1 601.5,643.8 605.5,644.2 609.5,638.8 613.5,656.5 617.5,655.7 621.5,665.5 625.5,656.8 629.5,662.6 633.5,657.2 637.5,660.5 641.5,659.1 645.5,661.1 649.5,655.3 653.5,656.0 657.5,652.8 661.5,648.3 665.5,650.3 669.5,647.1 673.5,649.0 677.5,646.0 681.5,644.1 685.5,654.1 689.5,654.6 693.5,649.6 697.5,645.9 701.5,646.8 705.5,641.5 709.5,637.1 713.5,636.3 717.5,636.7 721.5,642.0 725.5,649.0 729.5,643.0 733.5,643.3 737.5,642.0 741.5,638.4 745.5,639.0 749.5,636.0 753.5,642.9 757.5,641.9 761.5,640.7 765.5,639.2 769.5,638.5 773.5,635.3 777.5,639.9 781.5,639.4 785.5,642.2 789.5,646.5 793.5,650.0 797.5,644.0 801.5,641.1 805.5,642.7 809.5,645.9 813.5,635.4 817.5,642.6 821.5,637.9 825.5,638.3 829.5,641.0 833.5,642.9 837.5,642.9 841.5,644.5 845.5,642.9 849.5,641.9 853.5,639.6 857.5,638.4 861.5,639.6 865.5,637.2 869.5,643.9 873.5,659.5 877.5,661.3 881.5,661.8 885.5,658.5 889.5,653.1 893.5,649.5 897.5,646.6 901.5,642.8 905.5,642.2 909.5,640.1 913.5,645.7 917.5,651.3 921.5,657.9 925.5,659.6 929.5,658.8 933.5,657.3 937.5,645.9 941.5,645.1 945.5,641.0 949.5,638.0 953.5,636.5 957.5,643.4 961.5,644.2 965.5,653.3 969.5,654.7 973.5,652.4 977.5,652.2 981.5,655.9 985.5,651.0 989.5,645.7 993.5,648.1 997.5,640.0 1001.5,637.3 1005.5,638.1 1009.5,635.7 1013.5,635.3 1017.5,635.9 1021.5,634.5 1025.5,633.6 1029.5,650.9 1033.5,661.1 1037.5,656.3 1041.5,657.1 1045.5,651.7 1049.5,652.9 1053.5,655.6 1057.5,659.2 1061.5,658.6 1065.5,657.2 1069.5,663.3 1073.5,659.5 1077.5,660.3 1081.5,666.3 1085.5,661.6 1089.5,665.6 1093.5,657.9 1097.5,655.7 1101.5,656.9 1105.5,659.4 1109.5,660.7 1113.5,656.7 1117.5,664.3 1121.5,667.3 1125.5,671.1 1129.5,672.0 1133.5,672.7 1137.5,668.6 1141.5,664.7 1145.5,660.9 1149.5,665.7 1153.5,658.2 1157.5,660.3 1161.5,654.9 1165.5,654.2 1169.5,655.7 1173.5,658.4 1177.5,662.2 1181.5,666.3 1185.5,667.3 1189.5,658.2 1193.5,658.8 1197.5,654.5 1201.5,657.4 1205.5,652.0 1209.5,653.7 1213.5,650.4 1217.5,650.6 1221.5,652.3 1225.5,644.0 1229.5,641.6 1233.5,654.4 1237.5,659.8 1241.5,661.2 1245.5,655.4 1249.5,648.7 1253.5,643.8 1257.5,641.3 1261.5,639.3 1265.5,638.2 1269.5,638.2 1273.5,638.2 1277.5,639.0 1281.5,636.4 1285.5,631.7 1289.5,631.2 1293.5,631.1 1297.5,632.5 1301.5,629.3 1305.5,630.9" fill="none" stroke="#1e90ff" stroke-width="1" />
</g>
<text x="9" y="608" font-family="Liberation Sans, sans-serif" font-size="9.5" fill="#000" stroke="#000" stroke-width="0.2" textLength="68.5" lengthAdjust="spacingAndGlyphs" shape-rendering="geometricPrecision">RSI(14) 66.7713</text>
<rect x="1642" y="597" width="2" height="1" fill="#000"/>
<rect x="1642" y="627" width="2" height="1" fill="#000"/>
<rect x="1642" y="668" width="2" height="1" fill="#000"/>
<rect x="1642" y="698" width="2" height="1" fill="#000"/>
<text x="1645.5" y="606" font-family="Liberation Sans, sans-serif" font-size="9.5" fill="#000" stroke="#000" stroke-width="0.2" textLength="15" lengthAdjust="spacingAndGlyphs" shape-rendering="geometricPrecision">100</text>
<text x="1645.5" y="631" font-family="Liberation Sans, sans-serif" font-size="9.5" fill="#000" stroke="#000" stroke-width="0.2" textLength="10" lengthAdjust="spacingAndGlyphs" shape-rendering="geometricPrecision">70</text>
<text x="1645.5" y="672" font-family="Liberation Sans, sans-serif" font-size="9.5" fill="#000" stroke="#000" stroke-width="0.2" textLength="10" lengthAdjust="spacingAndGlyphs" shape-rendering="geometricPrecision">30</text>
<text x="1645.5" y="695" font-family="Liberation Sans, sans-serif" font-size="9.5" fill="#000" stroke="#000" stroke-width="0.2" textLength="5.2" lengthAdjust="spacingAndGlyphs" shape-rendering="geometricPrecision">0</text>
<g clip-path="url(#cd)">
<rect x="5" y="728" width="1" height="20" fill="#c0c0c0"/>
<rect x="9" y="727" width="1" height="21" fill="#c0c0c0"/>
<rect x="13" y="726" width="1" height="22" fill="#c0c0c0"/>
<rect x="17" y="726" width="1" height="22" fill="#c0c0c0"/>
<rect x="21" y="724" width="1" height="24" fill="#c0c0c0"/>
<rect x="25" y="721" width="1" height="27" fill="#c0c0c0"/>
<rect x="29" y="718" width="1" height="30" fill="#c0c0c0"/>
<rect x="33" y="717" width="1" height="31" fill="#c0c0c0"/>
<rect x="37" y="716" width="1" height="32" fill="#c0c0c0"/>
<rect x="41" y="717" width="1" height="31" fill="#c0c0c0"/>
<rect x="45" y="719" width="1" height="29" fill="#c0c0c0"/>
<rect x="49" y="722" width="1" height="26" fill="#c0c0c0"/>
<rect x="53" y="726" width="1" height="22" fill="#c0c0c0"/>
<rect x="57" y="729" width="1" height="19" fill="#c0c0c0"/>
<rect x="61" y="732" width="1" height="16" fill="#c0c0c0"/>
<rect x="65" y="734" width="1" height="14" fill="#c0c0c0"/>
<rect x="69" y="736" width="1" height="12" fill="#c0c0c0"/>
<rect x="73" y="737" width="1" height="11" fill="#c0c0c0"/>
<rect x="77" y="739" width="1" height="9" fill="#c0c0c0"/>
<rect x="81" y="742" width="1" height="6" fill="#c0c0c0"/>
<rect x="85" y="743" width="1" height="5" fill="#c0c0c0"/>
<rect x="89" y="744" width="1" height="4" fill="#c0c0c0"/>
<rect x="93" y="744" width="1" height="4" fill="#c0c0c0"/>
<rect x="97" y="742" width="1" height="6" fill="#c0c0c0"/>
<rect x="101" y="740" width="1" height="8" fill="#c0c0c0"/>
<rect x="105" y="736" width="1" height="12" fill="#c0c0c0"/>
<rect x="109" y="734" width="1" height="14" fill="#c0c0c0"/>
<rect x="113" y="732" width="1" height="16" fill="#c0c0c0"/>
<rect x="117" y="729" width="1" height="19" fill="#c0c0c0"/>
<rect x="121" y="728" width="1" height="20" fill="#c0c0c0"/>
<rect x="125" y="730" width="1" height="18" fill="#c0c0c0"/>
<rect x="129" y="732" width="1" height="16" fill="#c0c0c0"/>
<rect x="133" y="735" width="1" height="13" fill="#c0c0c0"/>
<rect x="137" y="737" width="1" height="11" fill="#c0c0c0"/>
<rect x="141" y="740" width="1" height="8" fill="#c0c0c0"/>
<rect x="145" y="743" width="1" height="5" fill="#c0c0c0"/>
<rect x="149" y="746" width="1" height="2" fill="#c0c0c0"/>
<rect x="153" y="747" width="1" height="5" fill="#c0c0c0"/>
<rect x="157" y="747" width="1" height="9" fill="#c0c0c0"/>
<rect x="161" y="747" width="1" height="11" fill="#c0c0c0"/>
<rect x="165" y="747" width="1" height="14" fill="#c0c0c0"/>
<rect x="169" y="747" width="1" height="16" fill="#c0c0c0"/>
<rect x="173" y="747" width="1" height="16" fill="#c0c0c0"/>
<rect x="177" y="747" width="1" height="16" fill="#c0c0c0"/>
<rect x="181" y="747" width="1" height="15" fill="#c0c0c0"/>
<rect x="185" y="747" width="1" height="14" fill="#c0c0c0"/>
<rect x="189" y="747" width="1" height="12" fill="#c0c0c0"/>
<rect x="193" y="747" width="1" height="10" fill="#c0c0c0"/>
<rect x="197" y="747" width="1" height="9" fill="#c0c0c0"/>
<rect x="201" y="747" width="1" height="7" fill="#c0c0c0"/>
<rect x="205" y="747" width="1" height="5" fill="#c0c0c0"/>
<rect x="209" y="747" width="1" height="3" fill="#c0c0c0"/>
<rect x="213" y="747" width="1" height="2" fill="#c0c0c0"/>
<rect x="217" y="747" width="1" height="1" fill="#c0c0c0"/>
<rect x="221" y="746" width="1" height="2" fill="#c0c0c0"/>
<rect x="225" y="744" width="1" height="4" fill="#c0c0c0"/>
<rect x="229" y="743" width="1" height="5" fill="#c0c0c0"/>
<rect x="233" y="742" width="1" height="6" fill="#c0c0c0"/>
<rect x="237" y="740" width="1" height="8" fill="#c0c0c0"/>
<rect x="241" y="737" width="1" height="11" fill="#c0c0c0"/>
<rect x="245" y="734" width="1" height="14" fill="#c0c0c0"/>
<rect x="249" y="727" width="1" height="21" fill="#c0c0c0"/>
<rect x="253" y="723" width="1" height="25" fill="#c0c0c0"/>
<rect x="257" y="720" width="1" height="28" fill="#c0c0c0"/>
<rect x="261" y="718" width="1" height="30" fill="#c0c0c0"/>
<rect x="265" y="712" width="1" height="36" fill="#c0c0c0"/>
<rect x="269" y="711" width="1" height="37" fill="#c0c0c0"/>
<rect x="273" y="709" width="1" height="39" fill="#c0c0c0"/>
<rect x="277" y="708" width="1" height="40" fill="#c0c0c0"/>
<rect x="281" y="708" width="1" height="40" fill="#c0c0c0"/>
<rect x="285" y="708" width="1" height="40" fill="#c0c0c0"/>
<rect x="289" y="709" width="1" height="39" fill="#c0c0c0"/>
<rect x="293" y="713" width="1" height="35" fill="#c0c0c0"/>
<rect x="297" y="714" width="1" height="34" fill="#c0c0c0"/>
<rect x="301" y="716" width="1" height="32" fill="#c0c0c0"/>
<rect x="305" y="718" width="1" height="30" fill="#c0c0c0"/>
<rect x="309" y="719" width="1" height="29" fill="#c0c0c0"/>
<rect x="313" y="719" width="1" height="29" fill="#c0c0c0"/>
<rect x="317" y="720" width="1" height="28" fill="#c0c0c0"/>
<rect x="321" y="725" width="1" height="23" fill="#c0c0c0"/>
<rect x="325" y="730" width="1" height="18" fill="#c0c0c0"/>
<rect x="329" y="733" width="1" height="15" fill="#c0c0c0"/>
<rect x="333" y="739" width="1" height="9" fill="#c0c0c0"/>
<rect x="337" y="743" width="1" height="5" fill="#c0c0c0"/>
<rect x="341" y="746" width="1" height="2" fill="#c0c0c0"/>
<rect x="345" y="747" width="1" height="0" fill="#c0c0c0"/>
<rect x="349" y="747" width="1" height="1" fill="#c0c0c0"/>
<rect x="353" y="747" width="1" height="2" fill="#c0c0c0"/>
<rect x="357" y="747" width="1" height="4" fill="#c0c0c0"/>
<rect x="361" y="747" width="1" height="4" fill="#c0c0c0"/>
<rect x="365" y="747" width="1" height="5" fill="#c0c0c0"/>
<rect x="369" y="747" width="1" height="9" fill="#c0c0c0"/>
<rect x="373" y="747" width="1" height="13" fill="#c0c0c0"/>
<rect x="377" y="747" width="1" height="16" fill="#c0c0c0"/>
<rect x="381" y="747" width="1" height="17" fill="#c0c0c0"/>
<rect x="385" y="747" width="1" height="14" fill="#c0c0c0"/>
<rect x="389" y="747" width="1" height="14" fill="#c0c0c0"/>
<rect x="393" y="747" width="1" height="12" fill="#c0c0c0"/>
<rect x="397" y="747" width="1" height="14" fill="#c0c0c0"/>
<rect x="401" y="747" width="1" height="16" fill="#c0c0c0"/>
<rect x="405" y="747" width="1" height="19" fill="#c0c0c0"/>
<rect x="409" y="747" width="1" height="24" fill="#c0c0c0"/>
<rect x="413" y="747" width="1" height="28" fill="#c0c0c0"/>
<rect x="417" y="747" width="1" height="34" fill="#c0c0c0"/>
<rect x="421" y="747" width="1" height="38" fill="#c0c0c0"/>
<rect x="425" y="747" width="1" height="42" fill="#c0c0c0"/>
<rect x="429" y="747" width="1" height="42" fill="#c0c0c0"/>
<rect x="433" y="747" width="1" height="40" fill="#c0c0c0"/>
<rect x="437" y="747" width="1" height="37" fill="#c0c0c0"/>
<rect x="441" y="747" width="1" height="35" fill="#c0c0c0"/>
<rect x="445" y="747" width="1" height="29" fill="#c0c0c0"/>
<rect x="449" y="747" width="1" height="25" fill="#c0c0c0"/>
<rect x="453" y="747" width="1" height="22" fill="#c0c0c0"/>
<rect x="457" y="747" width="1" height="18" fill="#c0c0c0"/>
<rect x="461" y="747" width="1" height="17" fill="#c0c0c0"/>
<rect x="465" y="747" width="1" height="24" fill="#c0c0c0"/>
<rect x="469" y="747" width="1" height="32" fill="#c0c0c0"/>
<rect x="473" y="747" width="1" height="38" fill="#c0c0c0"/>
<rect x="477" y="747" width="1" height="46" fill="#c0c0c0"/>
<rect x="481" y="747" width="1" height="51" fill="#c0c0c0"/>
<rect x="485" y="747" width="1" height="52" fill="#c0c0c0"/>
<rect x="489" y="747" width="1" height="52" fill="#c0c0c0"/>
<rect x="493" y="747" width="1" height="52" fill="#c0c0c0"/>
<rect x="497" y="747" width="1" height="52" fill="#c0c0c0"/>
<rect x="501" y="747" width="1" height="44" fill="#c0c0c0"/>
<rect x="505" y="747" width="1" height="38" fill="#c0c0c0"/>
<rect x="509" y="747" width="1" height="33" fill="#c0c0c0"/>
<rect x="513" y="747" width="1" height="29" fill="#c0c0c0"/>
<rect x="517" y="747" width="1" height="22" fill="#c0c0c0"/>
<rect x="521" y="747" width="1" height="16" fill="#c0c0c0"/>
<rect x="525" y="747" width="1" height="10" fill="#c0c0c0"/>
<rect x="529" y="747" width="1" height="6" fill="#c0c0c0"/>
<rect x="533" y="747" width="1" height="4" fill="#c0c0c0"/>
<rect x="537" y="747" width="1" height="4" fill="#c0c0c0"/>
<rect x="541" y="747" width="1" height="6" fill="#c0c0c0"/>
<rect x="545" y="747" width="1" height="7" fill="#c0c0c0"/>
<rect x="549" y="747" width="1" height="8" fill="#c0c0c0"/>
<rect x="553" y="747" width="1" height="6" fill="#c0c0c0"/>
<rect x="557" y="747" width="1" height="6" fill="#c0c0c0"/>
<rect x="561" y="747" width="1" height="6" fill="#c0c0c0"/>
<rect x="565" y="747" width="1" height="8" fill="#c0c0c0"/>
<rect x="569" y="747" width="1" height="10" fill="#c0c0c0"/>
<rect x="573" y="747" width="1" height="11" fill="#c0c0c0"/>
<rect x="577" y="747" width="1" height="11" fill="#c0c0c0"/>
<rect x="581" y="747" width="1" height="10" fill="#c0c0c0"/>
<rect x="585" y="747" width="1" height="6" fill="#c0c0c0"/>
<rect x="589" y="747" width="1" height="1" fill="#c0c0c0"/>
<rect x="593" y="744" width="1" height="4" fill="#c0c0c0"/>
<rect x="597" y="742" width="1" height="6" fill="#c0c0c0"/>
<rect x="601" y="741" width="1" height="7" fill="#c0c0c0"/>
<rect x="605" y="741" width="1" height="7" fill="#c0c0c0"/>
<rect x="609" y="739" width="1" height="9" fill="#c0c0c0"/>
<rect x="613" y="744" width="1" height="4" fill="#c0c0c0"/>
<rect x="617" y="747" width="1" height="1" fill="#c0c0c0"/>
<rect x="621" y="747" width="1" height="10" fill="#c0c0c0"/>
<rect x="625" y="747" width="1" height="13" fill="#c0c0c0"/>
<rect x="629" y="747" width="1" height="20" fill="#c0c0c0"/>
<rect x="633" y="747" width="1" height="22" fill="#c0c0c0"/>
<rect x="637" y="747" width="1" height="26" fill="#c0c0c0"/>
<rect x="641" y="747" width="1" height="29" fill="#c0c0c0"/>
<rect x="645" y="747" width="1" height="32" fill="#c0c0c0"/>
<rect x="649" y="747" width="1" height="31" fill="#c0c0c0"/>
<rect x="653" y="747" width="1" height="30" fill="#c0c0c0"/>
<rect x="657" y="747" width="1" height="28" fill="#c0c0c0"/>
<rect x="661" y="747" width="1" height="24" fill="#c0c0c0"/>
<rect x="665" y="747" width="1" height="21" fill="#c0c0c0"/>
<rect x="669" y="747" width="1" height="18" fill="#c0c0c0"/>
<rect x="673" y="747" width="1" height="15" fill="#c0c0c0"/>
<rect x="677" y="747" width="1" height="12" fill="#c0c0c0"/>
<rect x="681" y="747" width="1" height="8" fill="#c0c0c0"/>
<rect x="685" y="747" width="1" height="10" fill="#c0c0c0"/>
<rect x="689" y="747" width="1" height="12" fill="#c0c0c0"/>
<rect x="693" y="747" width="1" height="11" fill="#c0c0c0"/>
<rect x="697" y="747" width="1" height="8" fill="#c0c0c0"/>
<rect x="701" y="747" width="1" height="6" fill="#c0c0c0"/>
<rect x="705" y="747" width="1" height="2" fill="#c0c0c0"/>
<rect x="709" y="743" width="1" height="5" fill="#c0c0c0"/>
<rect x="713" y="738" width="1" height="10" fill="#c0c0c0"/>
<rect x="717" y="734" width="1" height="14" fill="#c0c0c0"/>
<rect x="721" y="733" width="1" height="15" fill="#c0c0c0"/>
<rect x="725" y="736" width="1" height="12" fill="#c0c0c0"/>
<rect x="729" y="735" width="1" height="13" fill="#c0c0c0"/>
<rect x="733" y="735" width="1" height="13" fill="#c0c0c0"/>
<rect x="737" y="734" width="1" height="14" fill="#c0c0c0"/>
<rect x="741" y="731" width="1" height="17" fill="#c0c0c0"/>
<rect x="745" y="730" width="1" height="18" fill="#c0c0c0"/>
<rect x="749" y="727" width="1" height="21" fill="#c0c0c0"/>
<rect x="753" y="728" width="1" height="20" fill="#c0c0c0"/>
<rect x="757" y="729" width="1" height="19" fill="#c0c0c0"/>
<rect x="761" y="728" width="1" height="20" fill="#c0c0c0"/>
<rect x="765" y="728" width="1" height="20" fill="#c0c0c0"/>
<rect x="769" y="727" width="1" height="21" fill="#c0c0c0"/>
<rect x="773" y="726" width="1" height="22" fill="#c0c0c0"/>
<rect x="777" y="726" width="1" height="22" fill="#c0c0c0"/>
<rect x="781" y="726" width="1" height="22" fill="#c0c0c0"/>
<rect x="785" y="728" width="1" height="20" fill="#c0c0c0"/>
<rect x="789" y="730" width="1" height="18" fill="#c0c0c0"/>
<rect x="793" y="734" width="1" height="14" fill="#c0c0c0"/>
<rect x="797" y="734" width="1" height="14" fill="#c0c0c0"/>
<rect x="801" y="734" width="1" height="14" fill="#c0c0c0"/>
<rect x="805" y="734" width="1" height="14" fill="#c0c0c0"/>
<rect x="809" y="736" width="1" height="12" fill="#c0c0c0"/>
<rect x="813" y="732" width="1" height="16" fill="#c0c0c0"/>
<rect x="817" y="733" width="1" height="15" fill="#c0c0c0"/>
<rect x="821" y="730" width="1" height="18" fill="#c0c0c0"/>
<rect x="825" y="729" width="1" height="19" fill="#c0c0c0"/>
<rect x="829" y="729" width="1" height="19" fill="#c0c0c0"/>
<rect x="833" y="730" width="1" height="18" fill="#c0c0c0"/>
<rect x="837" y="731" width="1" height="17" fill="#c0c0c0"/>
<rect x="841" y="733" width="1" height="15" fill="#c0c0c0"/>
<rect x="845" y="733" width="1" height="15" fill="#c0c0c0"/>
<rect x="849" y="734" width="1" height="14" fill="#c0c0c0"/>
<rect x="853" y="733" width="1" height="15" fill="#c0c0c0"/>
<rect x="857" y="733" width="1" height="15" fill="#c0c0c0"/>
<rect x="861" y="733" width="1" height="15" fill="#c0c0c0"/>
<rect x="865" y="732" width="1" height="16" fill="#c0c0c0"/>
<rect x="869" y="733" width="1" height="15" fill="#c0c0c0"/>
<rect x="873" y="740" width="1" height="8" fill="#c0c0c0"/>
<rect x="877" y="746" width="1" height="2" fill="#c0c0c0"/>
<rect x="881" y="747" width="1" height="3" fill="#c0c0c0"/>
<rect x="885" y="747" width="1" height="6" fill="#c0c0c0"/>
<rect x="889" y="747" width="1" height="7" fill="#c0c0c0"/>
<rect x="893" y="747" width="1" height="6" fill="#c0c0c0"/>
<rect x="897" y="747" width="1" height="5" fill="#c0c0c0"/>
<rect x="901" y="747" width="1" height="3" fill="#c0c0c0"/>
<rect x="905" y="747" width="1" height="0" fill="#c0c0c0"/>
<rect x="909" y="745" width="1" height="3" fill="#c0c0c0"/>
<rect x="913" y="745" width="1" height="3" fill="#c0c0c0"/>
<rect x="917" y="746" width="1" height="2" fill="#c0c0c0"/>
<rect x="921" y="747" width="1" height="3" fill="#c0c0c0"/>
<rect x="925" y="747" width="1" height="6" fill="#c0c0c0"/>
<rect x="929" y="747" width="1" height="8" fill="#c0c0c0"/>
<rect x="933" y="747" width="1" height="10" fill="#c0c0c0"/>
<rect x="937" y="747" width="1" height="8" fill="#c0c0c0"/>
<rect x="941" y="747" width="1" height="6" fill="#c0c0c0"/>
<rect x="945" y="747" width="1" height="2" fill="#c0c0c0"/>
<rect x="949" y="746" width="1" height="2" fill="#c0c0c0"/>
<rect x="953" y="743" width="1" height="5" fill="#c0c0c0"/>
<rect x="957" y="742" width="1" height="6" fill="#c0c0c0"/>
<rect x="961" y="742" width="1" height="6" fill="#c0c0c0"/>
<rect x="965" y="744" width="1" height="4" fill="#c0c0c0"/>
<rect x="969" y="747" width="1" height="1" fill="#c0c0c0"/>
<rect x="973" y="747" width="1" height="1" fill="#c0c0c0"/>
<rect x="977" y="747" width="1" height="2" fill="#c0c0c0"/>
<rect x="981" y="747" width="1" height="4" fill="#c0c0c0"/>
<rect x="985" y="747" width="1" height="4" fill="#c0c0c0"/>
<rect x="989" y="747" width="1" height="3" fill="#c0c0c0"/>
<rect x="993" y="747" width="1" height="3" fill="#c0c0c0"/>
<rect x="997" y="747" width="1" height="1" fill="#c0c0c0"/>
<rect x="1001" y="743" width="1" height="5" fill="#c0c0c0"/>
<rect x="1005" y="741" width="1" height="7" fill="#c0c0c0"/>
<rect x="1009" y="738" width="1" height="10" fill="#c0c0c0"/>
<rect x="1013" y="736" width="1" height="12" fill="#c0c0c0"/>
<rect x="1017" y="735" width="1" height="13" fill="#c0c0c0"/>
<rect x="1021" y="733" width="1" height="15" fill="#c0c0c0"/>
<rect x="1025" y="732" width="1" height="16" fill="#c0c0c0"/>
<rect x="1029" y="735" width="1" height="13" fill="#c0c0c0"/>
<rect x="1033" y="742" width="1" height="6" fill="#c0c0c0"/>
<rect x="1037" y="746" width="1" height="2" fill="#c0c0c0"/>
<rect x="1041" y="747" width="1" height="2" fill="#c0c0c0"/>
<rect x="1045" y="747" width="1" height="3" fill="#c0c0c0"/>
<rect x="1049" y="747" width="1" height="4" fill="#c0c0c0"/>
<rect x="1053" y="747" width="1" height="6" fill="#c0c0c0"/>
<rect x="1057" y="747" width="1" height="9" fill="#c0c0c0"/>
<rect x="1061" y="747" width="1" height="11" fill="#c0c0c0"/>
<rect x="1065" y="747" width="1" height="12" fill="#c0c0c0"/>
<rect x="1069" y="747" width="1" height="15" fill="#c0c0c0"/>
<rect x="1073" y="747" width="1" height="16" fill="#c0c0c0"/>
<rect x="1077" y="747" width="1" height="17" fill="#c0c0c0"/>
<rect x="1081" y="747" width="1" height="20" fill="#c0c0c0"/>
<rect x="1085" y="747" width="1" height="22" fill="#c0c0c0"/>
<rect x="1089" y="747" width="1" height="24" fill="#c0c0c0"/>
<rect x="1093" y="747" width="1" height="24" fill="#c0c0c0"/>
<rect x="1097" y="747" width="1" height="23" fill="#c0c0c0"/>
<rect x="1101" y="747" width="1" height="22" fill="#c0c0c0"/>
<rect x="1105" y="747" width="1" height="22" fill="#c0c0c0"/>
<rect x="1109" y="747" width="1" height="23" fill="#c0c0c0"/>
<rect x="1113" y="747" width="1" height="22" fill="#c0c0c0"/>
<rect x="1117" y="747" width="1" height="24" fill="#c0c0c0"/>
<rect x="1121" y="747" width="1" height="27" fill="#c0c0c0"/>
<rect x="1125" y="747" width="1" height="31" fill="#c0c0c0"/>
<rect x="1129" y="747" width="1" height="35" fill="#c0c0c0"/>
<rect x="1133" y="747" width="1" height="37" fill="#c0c0c0"/>
<rect x="1137" y="747" width="1" height="38" fill="#c0c0c0"/>
<rect x="1141" y="747" width="1" height="38" fill="#c0c0c0"/>
<rect x="1145" y="747" width="1" height="36" fill="#c0c0c0"/>
<rect x="1149" y="747" width="1" height="36" fill="#c0c0c0"/>
<rect x="1153" y="747" width="1" height="34" fill="#c0c0c0"/>
<rect x="1157" y="747" width="1" height="33" fill="#c0c0c0"/>
<rect x="1161" y="747" width="1" height="30" fill="#c0c0c0"/>
<rect x="1165" y="747" width="1" height="27" fill="#c0c0c0"/>
<rect x="1169" y="747" width="1" height="25" fill="#c0c0c0"/>
<rect x="1173" y="747" width="1" height="25" fill="#c0c0c0"/>
<rect x="1177" y="747" width="1" height="25" fill="#c0c0c0"/>
<rect x="1181" y="747" width="1" height="27" fill="#c0c0c0"/>
<rect x="1185" y="747" width="1" height="29" fill="#c0c0c0"/>
<rect x="1189" y="747" width="1" height="28" fill="#c0c0c0"/>
<rect x="1193" y="747" width="1" height="27" fill="#c0c0c0"/>
<rect x="1197" y="747" width="1" height="25" fill="#c0c0c0"/>
<rect x="1201" y="747" width="1" height="24" fill="#c0c0c0"/>
<rect x="1205" y="747" width="1" height="21" fill="#c0c0c0"/>
<rect x="1209" y="747" width="1" height="20" fill="#c0c0c0"/>
<rect x="1213" y="747" width="1" height="17" fill="#c0c0c0"/>
<rect x="1217" y="747" width="1" height="15" fill="#c0c0c0"/>
<rect x="1221" y="747" width="1" height="14" fill="#c0c0c0"/>
<rect x="1225" y="747" width="1" height="11" fill="#c0c0c0"/>
<rect x="1229" y="747" width="1" height="7" fill="#c0c0c0"/>
<rect x="1233" y="747" width="1" height="8" fill="#c0c0c0"/>
<rect x="1237" y="747" width="1" height="11" fill="#c0c0c0"/>
<rect x="1241" y="747" width="1" height="14" fill="#c0c0c0"/>
<rect x="1245" y="747" width="1" height="14" fill="#c0c0c0"/>
<rect x="1249" y="747" width="1" height="12" fill="#c0c0c0"/>
<rect x="1253" y="747" width="1" height="9" fill="#c0c0c0"/>
<rect x="1257" y="747" width="1" height="5" fill="#c0c0c0"/>
<rect x="1261" y="747" width="1" height="1" fill="#c0c0c0"/>
<rect x="1265" y="744" width="1" height="4" fill="#c0c0c0"/>
<rect x="1269" y="741" width="1" height="7" fill="#c0c0c0"/>
<rect x="1273" y="739" width="1" height="9" fill="#c0c0c0"/>
<rect x="1277" y="738" width="1" height="10" fill="#c0c0c0"/>
<rect x="1281" y="736" width="1" height="12" fill="#c0c0c0"/>
<rect x="1285" y="733" width="1" height="15" fill="#c0c0c0"/>
<rect x="1289" y="730" width="1" height="18" fill="#c0c0c0"/>
<rect x="1293" y="729" width="1" height="19" fill="#c0c0c0"/>
<rect x="1297" y="728" width="1" height="20" fill="#c0c0c0"/>
<rect x="1301" y="726" width="1" height="22" fill="#c0c0c0"/>
<rect x="1305" y="725" width="1" height="23" fill="#c0c0c0"/>
<polyline points="5.5,731.7 9.5,731.2 13.5,730.6 17.5,730.1 21.5,729.2 25.5,727.9 29.5,726.3 33.5,724.6 37.5,723.1 41.5,721.9 45.5,721.0 49.5,720.6 53.5,720.6 57.5,721.2 61.5,722.4 65.5,724.1 69.5,726.2 73.5,728.5 77.5,730.9 81.5,733.5 85.5,735.8 89.5,737.8 93.5,739.5 97.5,740.6 101.5,741.3 105.5,741.4 109.5,741.1 113.5,740.4 117.5,738.9 121.5,737.3 125.5,735.8 129.5,734.4 133.5,733.6 137.5,733.2 141.5,733.7 145.5,734.6 149.5,736.2 153.5,738.7 157.5,741.8 161.5,744.9 165.5,748.1 169.5,751.2 173.5,754.1 177.5,756.6 181.5,758.7 185.5,760.3 189.5,761.0 193.5,761.2 197.5,760.9 201.5,760.1 205.5,758.8 209.5,757.4 213.5,755.9 217.5,754.4 221.5,752.7 225.5,751.1 229.5,749.6 233.5,748.0 237.5,746.6 241.5,745.0 245.5,743.1 249.5,740.7 253.5,737.9 257.5,735.0 261.5,732.1 265.5,728.6 269.5,725.2 273.5,721.7 277.5,718.4 281.5,715.6 285.5,713.5 289.5,711.9 293.5,711.1 297.5,710.7 301.5,711.1 305.5,712.0 309.5,713.1 313.5,714.3 317.5,715.6 321.5,717.5 325.5,719.8 329.5,722.1 333.5,724.8 337.5,727.9 341.5,731.0 345.5,734.1 349.5,737.4 353.5,740.6 357.5,743.5 361.5,745.8 365.5,747.9 369.5,749.7 373.5,751.5 377.5,753.4 381.5,755.2 385.5,756.7 389.5,758.0 393.5,759.0 397.5,760.0 401.5,761.3 405.5,762.4 409.5,763.6 413.5,765.0 417.5,766.9 421.5,769.6 425.5,772.7 429.5,776.0 433.5,778.9 437.5,781.3 441.5,783.0 445.5,783.6 449.5,783.3 453.5,781.9 457.5,779.7 461.5,777.0 465.5,775.1 469.5,774.1 473.5,774.2 477.5,775.5 481.5,777.8 485.5,780.8 489.5,784.2 493.5,787.9 497.5,791.7 501.5,793.9 505.5,794.7 509.5,794.1 513.5,792.3 517.5,789.1 521.5,785.0 525.5,780.4 529.5,775.2 533.5,770.0 537.5,765.4 541.5,761.8 545.5,758.9 549.5,756.6 553.5,754.9 557.5,753.8 561.5,753.4 565.5,753.7 569.5,754.3 573.5,755.1 577.5,755.7 581.5,755.9 585.5,755.7 589.5,755.1 593.5,754.1 597.5,752.9 601.5,751.3 605.5,749.6 609.5,747.4 613.5,745.8 617.5,744.9 621.5,745.3 625.5,746.6 629.5,749.2 633.5,752.2 637.5,755.8 641.5,759.7 645.5,764.1 649.5,767.9 653.5,771.2 657.5,773.3 661.5,774.5 665.5,774.6 669.5,774.1 673.5,772.9 677.5,771.0 681.5,768.4 685.5,766.0 689.5,764.0 693.5,762.0 697.5,760.3 701.5,758.6 705.5,756.8 709.5,754.7 713.5,752.3 717.5,750.0 721.5,747.3 725.5,744.8 729.5,742.2 733.5,740.0 737.5,737.8 741.5,735.9 745.5,734.5 749.5,733.3 753.5,732.7 757.5,732.1 761.5,731.3 765.5,730.5 769.5,729.7 773.5,728.8 777.5,728.2 781.5,727.8 785.5,727.8 789.5,728.1 793.5,728.6 797.5,729.3 801.5,729.9 805.5,730.7 809.5,731.8 813.5,732.5 817.5,733.2 821.5,733.5 825.5,733.4 829.5,732.9 833.5,732.5 837.5,732.2 841.5,732.0 845.5,731.7 849.5,731.9 853.5,732.0 857.5,732.2 861.5,732.6 865.5,732.9 869.5,733.3 873.5,734.2 877.5,735.7 881.5,737.6 885.5,739.7 889.5,742.0 893.5,744.3 897.5,746.5 901.5,748.4 905.5,750.0 909.5,750.6 913.5,750.5 917.5,750.0 921.5,749.6 925.5,749.5 929.5,749.7 933.5,750.3 937.5,750.8 941.5,751.4 945.5,751.9 949.5,752.0 953.5,751.6 957.5,750.7 961.5,749.5 965.5,748.2 969.5,747.1 973.5,746.4 977.5,746.0 981.5,746.2 985.5,746.8 989.5,747.7 993.5,748.5 997.5,749.1 1001.5,749.0 1005.5,748.3 1009.5,747.2 1013.5,745.7 1017.5,743.9 1021.5,741.9 1025.5,739.8 1029.5,738.2 1033.5,737.7 1037.5,737.9 1041.5,738.8 1045.5,740.1 1049.5,741.8 1053.5,743.9 1057.5,746.4 1061.5,749.2 1065.5,751.8 1069.5,754.1 1073.5,756.0 1077.5,757.7 1081.5,759.7 1085.5,761.6 1089.5,763.6 1093.5,765.3 1097.5,766.6 1101.5,767.8 1105.5,768.6 1109.5,769.3 1113.5,769.8 1117.5,770.2 1121.5,770.8 1125.5,771.5 1129.5,772.7 1133.5,774.4 1137.5,776.2 1141.5,777.9 1145.5,779.3 1149.5,780.9 1153.5,782.1 1157.5,782.7 1161.5,782.6 1165.5,781.8 1169.5,780.5 1173.5,779.0 1177.5,777.6 1181.5,776.7 1185.5,775.9 1189.5,775.2 1193.5,774.6 1197.5,774.0 1201.5,773.6 1205.5,773.1 1209.5,772.6 1213.5,771.7 1217.5,770.3 1221.5,768.7 1225.5,766.7 1229.5,764.5 1233.5,762.7 1237.5,761.3 1241.5,760.5 1245.5,759.9 1249.5,759.3 1253.5,758.6 1257.5,757.6 1261.5,756.5 1265.5,755.4 1269.5,753.9 1273.5,751.8 1277.5,749.2 1281.5,746.4 1285.5,743.5 1289.5,740.7 1293.5,738.1 1297.5,735.8 1301.5,733.8 1305.5,732.0" fill="none" stroke="#ff0000" stroke-width="1" stroke-dasharray="3,3"/>
</g>
<text x="9" y="714" font-family="Liberation Sans, sans-serif" font-size="9.5" fill="#000" stroke="#000" stroke-width="0.2" textLength="148.5" lengthAdjust="spacingAndGlyphs" shape-rendering="geometricPrecision">MACD(12,26,9) 0.003016 0.002127</text>
<rect x="1642" y="703" width="2" height="1" fill="#000"/>
<rect x="1642" y="747" width="2" height="1" fill="#000"/>
<rect x="1642" y="803" width="2" height="1" fill="#000"/>
<text x="1645" y="712" font-family="Liberation Sans, sans-serif" font-size="9.5" fill="#000" stroke="#000" stroke-width="0.2" textLength="38" lengthAdjust="spacingAndGlyphs" shape-rendering="geometricPrecision">0.005986</text>
<text x="1645" y="751" font-family="Liberation Sans, sans-serif" font-size="9.5" fill="#000" stroke="#000" stroke-width="0.2" textLength="18.5" lengthAdjust="spacingAndGlyphs" shape-rendering="geometricPrecision">0.00</text>
<text x="1645" y="801" font-family="Liberation Sans, sans-serif" font-size="9.5" fill="#000" stroke="#000" stroke-width="0.2" textLength="42" lengthAdjust="spacingAndGlyphs" shape-rendering="geometricPrecision">-0.007737</text>
<rect x="5" y="805" width="1" height="3" fill="#000"/>
<text x="3.5" y="817" font-family="Liberation Sans, sans-serif" font-size="9.5" fill="#000" stroke="#000" stroke-width="0.2" textLength="48" lengthAdjust="spacingAndGlyphs" shape-rendering="geometricPrecision">6 Feb 2019</text>
<rect x="69" y="805" width="1" height="3" fill="#000"/>
<text x="67.5" y="817" font-family="Liberation Sans, sans-serif" font-size="9.5" fill="#000" stroke="#000" stroke-width="0.2" textLength="53" lengthAdjust="spacingAndGlyphs" shape-rendering="geometricPrecision">25 Feb 2019</text>
<rect x="133" y="805" width="1" height="3" fill="#000"/>
<text x="131.5" y="817" font-family="Liberation Sans, sans-serif" font-size="9.5" fill="#000" stroke="#000" stroke-width="0.2" textLength="52" lengthAdjust="spacingAndGlyphs" shape-rendering="geometricPrecision">15 Mar 2019</text>
<rect x="197" y="805" width="1" height="3" fill="#000"/>
<text x="195.5" y="817" font-family="Liberation Sans, sans-serif" font-size="9.5" fill="#000" stroke="#000" stroke-width="0.2" textLength="47" lengthAdjust="spacingAndGlyphs" shape-rendering="geometricPrecision">3 Apr 2019</text>
<rect x="261" y="805" width="1" height="3" fill="#000"/>
<text x="259.5" y="817" font-family="Liberation Sans, sans-serif" font-size="9.5" fill="#000" stroke="#000" stroke-width="0.2" textLength="52" lengthAdjust="spacingAndGlyphs" shape-rendering="geometricPrecision">22 Apr 2019</text>
<rect x="325" y="805" width="1" height="3" fill="#000"/>
<text x="323.5" y="817" font-family="Liberation Sans, sans-serif" font-size="9.5" fill="#000" stroke="#000" stroke-width="0.2" textLength="56" lengthAdjust="spacingAndGlyphs" shape-rendering="geometricPrecision">10 May 2019</text>
<rect x="389" y="805" width="1" height="3" fill="#000"/>
<text x="387.5" y="817" font-family="Liberation Sans, sans-serif" font-size="9.5" fill="#000" stroke="#000" stroke-width="0.2" textLength="56" lengthAdjust="spacingAndGlyphs" shape-rendering="geometricPrecision">29 May 2019</text>
<rect x="453" y="805" width="1" height="3" fill="#000"/>
<text x="451.5" y="817" font-family="Liberation Sans, sans-serif" font-size="9.5" fill="#000" stroke="#000" stroke-width="0.2" textLength="51" lengthAdjust="spacingAndGlyphs" shape-rendering="geometricPrecision">17 Jun 2019</text>
<rect x="517" y="805" width="1" height="3" fill="#000"/>
<text x="515.5" y="817" font-family="Liberation Sans, sans-serif" font-size="9.5" fill="#000" stroke="#000" stroke-width="0.2" textLength="42.5" lengthAdjust="spacingAndGlyphs" shape-rendering="geometricPrecision">5 Jul 2019</text>
<rect x="581" y="805" width="1" height="3" fill="#000"/>
<text x="579.5" y="817" font-family="Liberation Sans, sans-serif" font-size="9.5" fill="#000" stroke="#000" stroke-width="0.2" textLength="47.5" lengthAdjust="spacingAndGlyphs" shape-rendering="geometricPrecision">24 Jul 2019</text>
<rect x="645" y="805" width="1" height="3" fill="#000"/>
<text x="643.5" y="817" font-family="Liberation Sans, sans-serif" font-size="9.5" fill="#000" stroke="#000" stroke-width="0.2" textLength="54" lengthAdjust="spacingAndGlyphs" shape-rendering="geometricPrecision">12 Aug 2019</text>
<rect x="709" y="805" width="1" height="3" fill="#000"/>
<text x="707.5" y="817" font-family="Liberation Sans, sans-serif" font-size="9.5" fill="#000" stroke="#000" stroke-width="0.2" textLength="54" lengthAdjust="spacingAndGlyphs" shape-rendering="geometricPrecision">30 Aug 2019</text>
<rect x="773" y="805" width="1" height="3" fill="#000"/>
<text x="771.5" y="817" font-family="Liberation Sans, sans-serif" font-size="9.5" fill="#000" stroke="#000" stroke-width="0.2" textLength="53" lengthAdjust="spacingAndGlyphs" shape-rendering="geometricPrecision">18 Sep 2019</text>
<rect x="837" y="805" width="1" height="3" fill="#000"/>
<text x="835.5" y="817" font-family="Liberation Sans, sans-serif" font-size="9.5" fill="#000" stroke="#000" stroke-width="0.2" textLength="46.5" lengthAdjust="spacingAndGlyphs" shape-rendering="geometricPrecision">7 Oct 2019</text>
<rect x="901" y="805" width="1" height="3" fill="#000"/>
<text x="899.5" y="817" font-family="Liberation Sans, sans-serif" font-size="9.5" fill="#000" stroke="#000" stroke-width="0.2" textLength="51.5" lengthAdjust="spacingAndGlyphs" shape-rendering="geometricPrecision">25 Oct 2019</text>
<rect x="965" y="805" width="1" height="3" fill="#000"/>
<text x="963.5" y="817" font-family="Liberation Sans, sans-serif" font-size="9.5" fill="#000" stroke="#000" stroke-width="0.2" textLength="54" lengthAdjust="spacingAndGlyphs" shape-rendering="geometricPrecision">13 Nov 2019</text>
<rect x="1029" y="805" width="1" height="3" fill="#000"/>
<text x="1027.5" y="817" font-family="Liberation Sans, sans-serif" font-size="9.5" fill="#000" stroke="#000" stroke-width="0.2" textLength="47.5" lengthAdjust="spacingAndGlyphs" shape-rendering="geometricPrecision">2 Dec 2019</text>
<rect x="1093" y="805" width="1" height="3" fill="#000"/>
<text x="1091.5" y="817" font-family="Liberation Sans, sans-serif" font-size="9.5" fill="#000" stroke="#000" stroke-width="0.2" textLength="51.7" lengthAdjust="spacingAndGlyphs" shape-rendering="geometricPrecision">20 Dec 2019</text>
<rect x="1157" y="805" width="1" height="3" fill="#000"/>
<text x="1155.5" y="817" font-family="Liberation Sans, sans-serif" font-size="9.5" fill="#000" stroke="#000" stroke-width="0.2" textLength="46" lengthAdjust="spacingAndGlyphs" shape-rendering="geometricPrecision">8 Jan 2020</text>
<rect x="1221" y="805" width="1" height="3" fill="#000"/>
<text x="1219.5" y="817" font-family="Liberation Sans, sans-serif" font-size="9.5" fill="#000" stroke="#000" stroke-width="0.2" textLength="50" lengthAdjust="spacingAndGlyphs" shape-rendering="geometricPrecision">27 Jan 2020</text>
<rect x="1285" y="805" width="1" height="3" fill="#000"/>
<text x="1283.5" y="817" font-family="Liberation Sans, sans-serif" font-size="9.5" fill="#000" stroke="#000" stroke-width="0.2" textLength="52" lengthAdjust="spacingAndGlyphs" shape-rendering="geometricPrecision">14 Feb 2020</text>
<rect x="0" y="825" width="1685" height="1" fill="#e3e3e3"/>
<rect x="0" y="827" width="1685" height="1" fill="#000"/>
<rect x="0" y="828" width="1685" height="19" fill="#f0f0f0"/>
<rect x="0" y="847" width="1685" height="2" fill="#fafafa"/>
<rect x="0" y="828" width="1" height="19" fill="#a0a0a0"/><rect x="1" y="828" width="1" height="19" fill="#696969"/>
<rect x="110" y="827" width="100" height="19" fill="#ffffff"/>
<rect x="110" y="827" width="1" height="19" fill="#000"/><rect x="209" y="827" width="1" height="19" fill="#000"/><rect x="110" y="845" width="100" height="1" fill="#000"/>
<text x="120.5" y="842" font-family="Liberation Sans, sans-serif" font-size="12" fill="#000" stroke="#000" stroke-width="0" textLength="78.5" lengthAdjust="spacingAndGlyphs" shape-rendering="geometricPrecision">USDCHF,Daily</text>
<text x="18" y="842" font-family="Liberation Sans, sans-serif" font-size="12" fill="#6d6d6d" stroke="#6d6d6d" stroke-width="0" textLength="80.5" lengthAdjust="spacingAndGlyphs" shape-rendering="geometricPrecision">EURUSD,Daily</text>
<text x="220.5" y="842" font-family="Liberation Sans, sans-serif" font-size="12" fill="#6d6d6d" stroke="#6d6d6d" stroke-width="0" textLength="83.0" lengthAdjust="spacingAndGlyphs" shape-rendering="geometricPrecision">AUDUSD,Daily</text>
<rect x="314" y="830" width="1" height="14" fill="#6d6d6d"/>
<text x="324.5" y="842" font-family="Liberation Sans, sans-serif" font-size="12" fill="#6d6d6d" stroke="#6d6d6d" stroke-width="0" textLength="82.0" lengthAdjust="spacingAndGlyphs" shape-rendering="geometricPrecision">USDCAD,Daily</text>
<rect x="418" y="830" width="1" height="14" fill="#6d6d6d"/>
<text x="427.5" y="842" font-family="Liberation Sans, sans-serif" font-size="12" fill="#6d6d6d" stroke="#6d6d6d" stroke-width="0" textLength="83.69999999999999" lengthAdjust="spacingAndGlyphs" shape-rendering="geometricPrecision">USDCNH,Daily</text>
<rect x="522" y="830" width="1" height="14" fill="#6d6d6d"/>
<text x="534" y="842" font-family="Liberation Sans, sans-serif" font-size="12" fill="#6d6d6d" stroke="#6d6d6d" stroke-width="0" textLength="80.29999999999995" lengthAdjust="spacingAndGlyphs" shape-rendering="geometricPrecision">EURUSD,Daily</text>
<rect x="626" y="830" width="1" height="14" fill="#6d6d6d"/>
<text x="638" y="842" font-family="Liberation Sans, sans-serif" font-size="12" fill="#6d6d6d" stroke="#6d6d6d" stroke-width="0" textLength="80.29999999999995" lengthAdjust="spacingAndGlyphs" shape-rendering="geometricPrecision">GBPUSD,Daily</text>
<rect x="730" y="830" width="1" height="14" fill="#6d6d6d"/>
<path d="M1660.2 832.8 L1660.2 839.4 L1656.9 836.1 Z" fill="#a0a0a0" shape-rendering="geometricPrecision"/>
<path d="M1675.8 832.8 L1675.8 839.4 L1679.2 836.1 Z" fill="#a0a0a0" shape-rendering="geometricPrecision"/>
</svg></body></html>
